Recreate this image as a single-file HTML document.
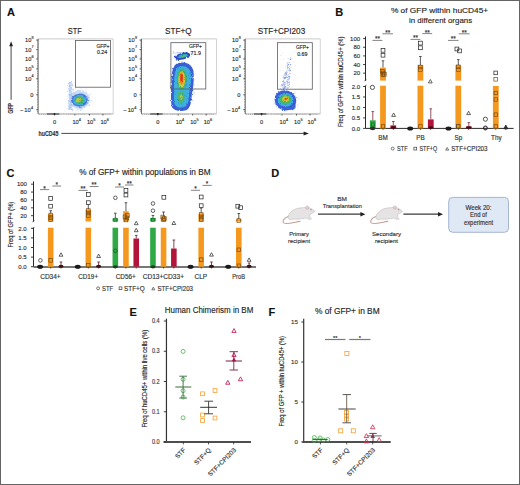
<!DOCTYPE html>
<html><head><meta charset="utf-8"><style>
html,body{margin:0;padding:0;background:#fff;}
svg{display:block;}
text{font-family:"Liberation Sans", sans-serif;stroke:#2a2a2a;stroke-width:0.14px;}
</style></head><body>
<svg width="520" height="485" viewBox="0 0 520 485">
<rect width="520" height="485" fill="#fff"/>
<text x="7.0" y="16.1" font-size="11" text-anchor="start" font-weight="bold" fill="#111" >A</text>
<text x="335.2" y="15.8" font-size="11" text-anchor="start" font-weight="bold" fill="#111" >B</text>
<text x="6.6" y="176.8" font-size="11" text-anchor="start" font-weight="bold" fill="#111" >C</text>
<text x="271.2" y="177.4" font-size="11" text-anchor="start" font-weight="bold" fill="#111" >D</text>
<text x="129.4" y="315.6" font-size="11" text-anchor="start" font-weight="bold" fill="#111" >E</text>
<text x="268.4" y="316.2" font-size="11" text-anchor="start" font-weight="bold" fill="#111" >F</text>
<defs><filter id="bl" x="-30%" y="-30%" width="160%" height="160%"><feGaussianBlur stdDeviation="0.5"/></filter><filter id="bl2" x="-30%" y="-30%" width="160%" height="160%"><feGaussianBlur stdDeviation="1.0"/></filter></defs>
<text x="74.85" y="34.1" font-size="8.5" text-anchor="middle" font-weight="normal" fill="#222" textLength="14.0" lengthAdjust="spacingAndGlyphs" >STF</text>
<line x1="37.9" y1="38.9" x2="113.19999999999999" y2="38.9" stroke="#c4c4c4" stroke-width="0.9" />
<line x1="113.19999999999999" y1="38.9" x2="113.19999999999999" y2="113.9" stroke="#cfcfcf" stroke-width="0.9" />
<line x1="37.9" y1="113.9" x2="113.19999999999999" y2="113.9" stroke="#9a9a9a" stroke-width="0.8" />
<line x1="38.1" y1="38.9" x2="38.1" y2="113.9" stroke="#4a4a4a" stroke-width="0.9" />
<line x1="36.3" y1="40.1" x2="37.9" y2="40.1" stroke="#333" stroke-width="0.9" />
<line x1="36.3" y1="49.7" x2="37.9" y2="49.7" stroke="#333" stroke-width="0.9" />
<line x1="36.3" y1="59.0" x2="37.9" y2="59.0" stroke="#333" stroke-width="0.9" />
<line x1="36.3" y1="68.9" x2="37.9" y2="68.9" stroke="#333" stroke-width="0.9" />
<line x1="36.3" y1="78.8" x2="37.9" y2="78.8" stroke="#333" stroke-width="0.9" />
<line x1="36.3" y1="94.8" x2="37.9" y2="94.8" stroke="#333" stroke-width="0.9" />
<line x1="36.3" y1="109.7" x2="37.9" y2="109.7" stroke="#333" stroke-width="0.9" />
<line x1="37.0" y1="42" x2="37.9" y2="42" stroke="#555" stroke-width="0.5" />
<line x1="37.0" y1="44" x2="37.9" y2="44" stroke="#555" stroke-width="0.5" />
<line x1="37.0" y1="46" x2="37.9" y2="46" stroke="#555" stroke-width="0.5" />
<line x1="37.0" y1="47.5" x2="37.9" y2="47.5" stroke="#555" stroke-width="0.5" />
<line x1="37.0" y1="52" x2="37.9" y2="52" stroke="#555" stroke-width="0.5" />
<line x1="37.0" y1="54" x2="37.9" y2="54" stroke="#555" stroke-width="0.5" />
<line x1="37.0" y1="56" x2="37.9" y2="56" stroke="#555" stroke-width="0.5" />
<line x1="37.0" y1="57.5" x2="37.9" y2="57.5" stroke="#555" stroke-width="0.5" />
<line x1="37.0" y1="61.5" x2="37.9" y2="61.5" stroke="#555" stroke-width="0.5" />
<line x1="37.0" y1="63.5" x2="37.9" y2="63.5" stroke="#555" stroke-width="0.5" />
<line x1="37.0" y1="65.5" x2="37.9" y2="65.5" stroke="#555" stroke-width="0.5" />
<line x1="37.0" y1="67" x2="37.9" y2="67" stroke="#555" stroke-width="0.5" />
<line x1="37.0" y1="71.5" x2="37.9" y2="71.5" stroke="#555" stroke-width="0.5" />
<line x1="37.0" y1="73.5" x2="37.9" y2="73.5" stroke="#555" stroke-width="0.5" />
<line x1="37.0" y1="75.5" x2="37.9" y2="75.5" stroke="#555" stroke-width="0.5" />
<line x1="37.0" y1="77" x2="37.9" y2="77" stroke="#555" stroke-width="0.5" />
<line x1="37.0" y1="81.5" x2="37.9" y2="81.5" stroke="#555" stroke-width="0.5" />
<line x1="37.0" y1="84" x2="37.9" y2="84" stroke="#555" stroke-width="0.5" />
<line x1="37.0" y1="87" x2="37.9" y2="87" stroke="#555" stroke-width="0.5" />
<line x1="37.0" y1="90" x2="37.9" y2="90" stroke="#555" stroke-width="0.5" />
<line x1="37.0" y1="92.5" x2="37.9" y2="92.5" stroke="#555" stroke-width="0.5" />
<line x1="37.0" y1="97" x2="37.9" y2="97" stroke="#555" stroke-width="0.5" />
<line x1="37.0" y1="99.5" x2="37.9" y2="99.5" stroke="#555" stroke-width="0.5" />
<line x1="37.0" y1="102" x2="37.9" y2="102" stroke="#555" stroke-width="0.5" />
<line x1="37.0" y1="105" x2="37.9" y2="105" stroke="#555" stroke-width="0.5" />
<line x1="37.0" y1="107.5" x2="37.9" y2="107.5" stroke="#555" stroke-width="0.5" />
<line x1="37.0" y1="111.5" x2="37.9" y2="111.5" stroke="#555" stroke-width="0.5" />
<line x1="46.9" y1="114.0" x2="59.4" y2="114.0" stroke="#333" stroke-width="1.0" />
<circle cx="54.5" cy="114.0" r="0.9" fill="#111"/>
<line x1="54.5" y1="113.9" x2="54.5" y2="115.5" stroke="#333" stroke-width="0.8" />
<line x1="74.9" y1="113.9" x2="74.9" y2="115.5" stroke="#333" stroke-width="0.8" />
<line x1="89.4" y1="113.9" x2="89.4" y2="115.5" stroke="#333" stroke-width="0.8" />
<line x1="102.9" y1="113.9" x2="102.9" y2="115.5" stroke="#333" stroke-width="0.8" />
<line x1="39.4" y1="113.9" x2="39.4" y2="114.9" stroke="#666" stroke-width="0.45" />
<line x1="41.4" y1="113.9" x2="41.4" y2="114.9" stroke="#666" stroke-width="0.45" />
<line x1="43.4" y1="113.9" x2="43.4" y2="114.9" stroke="#666" stroke-width="0.45" />
<line x1="45.4" y1="113.9" x2="45.4" y2="114.9" stroke="#666" stroke-width="0.45" />
<line x1="47.4" y1="113.9" x2="47.4" y2="114.9" stroke="#666" stroke-width="0.45" />
<line x1="49.4" y1="113.9" x2="49.4" y2="114.9" stroke="#666" stroke-width="0.45" />
<line x1="51.4" y1="113.9" x2="51.4" y2="114.9" stroke="#666" stroke-width="0.45" />
<line x1="52.9" y1="113.9" x2="52.9" y2="114.9" stroke="#666" stroke-width="0.45" />
<line x1="55.9" y1="113.9" x2="55.9" y2="114.9" stroke="#666" stroke-width="0.45" />
<line x1="57.9" y1="113.9" x2="57.9" y2="114.9" stroke="#666" stroke-width="0.45" />
<line x1="60.9" y1="113.9" x2="60.9" y2="114.9" stroke="#666" stroke-width="0.45" />
<line x1="63.9" y1="113.9" x2="63.9" y2="114.9" stroke="#666" stroke-width="0.45" />
<line x1="66.9" y1="113.9" x2="66.9" y2="114.9" stroke="#666" stroke-width="0.45" />
<line x1="68.9" y1="113.9" x2="68.9" y2="114.9" stroke="#666" stroke-width="0.45" />
<line x1="70.9" y1="113.9" x2="70.9" y2="114.9" stroke="#666" stroke-width="0.45" />
<line x1="72.9" y1="113.9" x2="72.9" y2="114.9" stroke="#666" stroke-width="0.45" />
<line x1="76.9" y1="113.9" x2="76.9" y2="114.9" stroke="#666" stroke-width="0.45" />
<line x1="78.9" y1="113.9" x2="78.9" y2="114.9" stroke="#666" stroke-width="0.45" />
<line x1="80.9" y1="113.9" x2="80.9" y2="114.9" stroke="#666" stroke-width="0.45" />
<line x1="82.9" y1="113.9" x2="82.9" y2="114.9" stroke="#666" stroke-width="0.45" />
<line x1="84.9" y1="113.9" x2="84.9" y2="114.9" stroke="#666" stroke-width="0.45" />
<line x1="88.9" y1="113.9" x2="88.9" y2="114.9" stroke="#666" stroke-width="0.45" />
<line x1="90.9" y1="113.9" x2="90.9" y2="114.9" stroke="#666" stroke-width="0.45" />
<line x1="92.9" y1="113.9" x2="92.9" y2="114.9" stroke="#666" stroke-width="0.45" />
<line x1="94.9" y1="113.9" x2="94.9" y2="114.9" stroke="#666" stroke-width="0.45" />
<line x1="96.9" y1="113.9" x2="96.9" y2="114.9" stroke="#666" stroke-width="0.45" />
<line x1="98.9" y1="113.9" x2="98.9" y2="114.9" stroke="#666" stroke-width="0.45" />
<line x1="101.9" y1="113.9" x2="101.9" y2="114.9" stroke="#666" stroke-width="0.45" />
<line x1="103.9" y1="113.9" x2="103.9" y2="114.9" stroke="#666" stroke-width="0.45" />
<line x1="105.9" y1="113.9" x2="105.9" y2="114.9" stroke="#666" stroke-width="0.45" />
<line x1="107.9" y1="113.9" x2="107.9" y2="114.9" stroke="#666" stroke-width="0.45" />
<line x1="109.9" y1="113.9" x2="109.9" y2="114.9" stroke="#666" stroke-width="0.45" />
<text x="31.299999999999997" y="42.1" font-size="5.7" text-anchor="end" fill="#333">10</text>
<text x="31.599999999999998" y="38.7" font-size="3.8" text-anchor="start" fill="#333">8</text>
<text x="31.299999999999997" y="51.7" font-size="5.7" text-anchor="end" fill="#333">10</text>
<text x="31.599999999999998" y="48.300000000000004" font-size="3.8" text-anchor="start" fill="#333">7</text>
<text x="31.299999999999997" y="61.0" font-size="5.7" text-anchor="end" fill="#333">10</text>
<text x="31.599999999999998" y="57.6" font-size="3.8" text-anchor="start" fill="#333">6</text>
<text x="31.299999999999997" y="70.9" font-size="5.7" text-anchor="end" fill="#333">10</text>
<text x="31.599999999999998" y="67.5" font-size="3.8" text-anchor="start" fill="#333">5</text>
<text x="31.299999999999997" y="80.8" font-size="5.7" text-anchor="end" fill="#333">10</text>
<text x="31.599999999999998" y="77.39999999999999" font-size="3.8" text-anchor="start" fill="#333">4</text>
<text x="33.3" y="96.9" font-size="5.7" text-anchor="end" fill="#333">0</text>
<text x="30.7" y="111.7" font-size="5.7" text-anchor="end" fill="#333">10</text>
<text x="23.4" y="111.7" font-size="5.7" text-anchor="end" fill="#333">−</text>
<text x="30.9" y="108.6" font-size="3.8" text-anchor="start" fill="#333">4</text>
<text x="54.5" y="124.1" font-size="5.7" text-anchor="middle" fill="#333">0</text>
<text x="72.4" y="124.1" font-size="5.7" text-anchor="start" fill="#333">10</text>
<text x="78.80000000000001" y="121.3" font-size="3.8" text-anchor="start" fill="#333">4</text>
<text x="86.9" y="124.1" font-size="5.7" text-anchor="start" fill="#333">10</text>
<text x="93.30000000000001" y="121.3" font-size="3.8" text-anchor="start" fill="#333">5</text>
<text x="100.4" y="124.1" font-size="5.7" text-anchor="start" fill="#333">10</text>
<text x="106.80000000000001" y="121.3" font-size="3.8" text-anchor="start" fill="#333">6</text>
<text x="178.25" y="34.1" font-size="8.5" text-anchor="middle" font-weight="normal" fill="#222" textLength="26.5" lengthAdjust="spacingAndGlyphs" >STF+Q</text>
<line x1="141.2" y1="38.9" x2="216.5" y2="38.9" stroke="#c4c4c4" stroke-width="0.9" />
<line x1="216.5" y1="38.9" x2="216.5" y2="113.9" stroke="#cfcfcf" stroke-width="0.9" />
<line x1="141.2" y1="113.9" x2="216.5" y2="113.9" stroke="#9a9a9a" stroke-width="0.8" />
<line x1="141.39999999999998" y1="38.9" x2="141.39999999999998" y2="113.9" stroke="#4a4a4a" stroke-width="0.9" />
<line x1="139.6" y1="40.1" x2="141.2" y2="40.1" stroke="#333" stroke-width="0.9" />
<line x1="139.6" y1="49.7" x2="141.2" y2="49.7" stroke="#333" stroke-width="0.9" />
<line x1="139.6" y1="59.0" x2="141.2" y2="59.0" stroke="#333" stroke-width="0.9" />
<line x1="139.6" y1="68.9" x2="141.2" y2="68.9" stroke="#333" stroke-width="0.9" />
<line x1="139.6" y1="78.8" x2="141.2" y2="78.8" stroke="#333" stroke-width="0.9" />
<line x1="139.6" y1="94.8" x2="141.2" y2="94.8" stroke="#333" stroke-width="0.9" />
<line x1="139.6" y1="109.7" x2="141.2" y2="109.7" stroke="#333" stroke-width="0.9" />
<line x1="140.29999999999998" y1="42" x2="141.2" y2="42" stroke="#555" stroke-width="0.5" />
<line x1="140.29999999999998" y1="44" x2="141.2" y2="44" stroke="#555" stroke-width="0.5" />
<line x1="140.29999999999998" y1="46" x2="141.2" y2="46" stroke="#555" stroke-width="0.5" />
<line x1="140.29999999999998" y1="47.5" x2="141.2" y2="47.5" stroke="#555" stroke-width="0.5" />
<line x1="140.29999999999998" y1="52" x2="141.2" y2="52" stroke="#555" stroke-width="0.5" />
<line x1="140.29999999999998" y1="54" x2="141.2" y2="54" stroke="#555" stroke-width="0.5" />
<line x1="140.29999999999998" y1="56" x2="141.2" y2="56" stroke="#555" stroke-width="0.5" />
<line x1="140.29999999999998" y1="57.5" x2="141.2" y2="57.5" stroke="#555" stroke-width="0.5" />
<line x1="140.29999999999998" y1="61.5" x2="141.2" y2="61.5" stroke="#555" stroke-width="0.5" />
<line x1="140.29999999999998" y1="63.5" x2="141.2" y2="63.5" stroke="#555" stroke-width="0.5" />
<line x1="140.29999999999998" y1="65.5" x2="141.2" y2="65.5" stroke="#555" stroke-width="0.5" />
<line x1="140.29999999999998" y1="67" x2="141.2" y2="67" stroke="#555" stroke-width="0.5" />
<line x1="140.29999999999998" y1="71.5" x2="141.2" y2="71.5" stroke="#555" stroke-width="0.5" />
<line x1="140.29999999999998" y1="73.5" x2="141.2" y2="73.5" stroke="#555" stroke-width="0.5" />
<line x1="140.29999999999998" y1="75.5" x2="141.2" y2="75.5" stroke="#555" stroke-width="0.5" />
<line x1="140.29999999999998" y1="77" x2="141.2" y2="77" stroke="#555" stroke-width="0.5" />
<line x1="140.29999999999998" y1="81.5" x2="141.2" y2="81.5" stroke="#555" stroke-width="0.5" />
<line x1="140.29999999999998" y1="84" x2="141.2" y2="84" stroke="#555" stroke-width="0.5" />
<line x1="140.29999999999998" y1="87" x2="141.2" y2="87" stroke="#555" stroke-width="0.5" />
<line x1="140.29999999999998" y1="90" x2="141.2" y2="90" stroke="#555" stroke-width="0.5" />
<line x1="140.29999999999998" y1="92.5" x2="141.2" y2="92.5" stroke="#555" stroke-width="0.5" />
<line x1="140.29999999999998" y1="97" x2="141.2" y2="97" stroke="#555" stroke-width="0.5" />
<line x1="140.29999999999998" y1="99.5" x2="141.2" y2="99.5" stroke="#555" stroke-width="0.5" />
<line x1="140.29999999999998" y1="102" x2="141.2" y2="102" stroke="#555" stroke-width="0.5" />
<line x1="140.29999999999998" y1="105" x2="141.2" y2="105" stroke="#555" stroke-width="0.5" />
<line x1="140.29999999999998" y1="107.5" x2="141.2" y2="107.5" stroke="#555" stroke-width="0.5" />
<line x1="140.29999999999998" y1="111.5" x2="141.2" y2="111.5" stroke="#555" stroke-width="0.5" />
<line x1="150.2" y1="114.0" x2="162.7" y2="114.0" stroke="#333" stroke-width="1.0" />
<circle cx="157.79999999999998" cy="114.0" r="0.9" fill="#111"/>
<line x1="157.79999999999998" y1="113.9" x2="157.79999999999998" y2="115.5" stroke="#333" stroke-width="0.8" />
<line x1="178.2" y1="113.9" x2="178.2" y2="115.5" stroke="#333" stroke-width="0.8" />
<line x1="192.7" y1="113.9" x2="192.7" y2="115.5" stroke="#333" stroke-width="0.8" />
<line x1="206.2" y1="113.9" x2="206.2" y2="115.5" stroke="#333" stroke-width="0.8" />
<line x1="142.7" y1="113.9" x2="142.7" y2="114.9" stroke="#666" stroke-width="0.45" />
<line x1="144.7" y1="113.9" x2="144.7" y2="114.9" stroke="#666" stroke-width="0.45" />
<line x1="146.7" y1="113.9" x2="146.7" y2="114.9" stroke="#666" stroke-width="0.45" />
<line x1="148.7" y1="113.9" x2="148.7" y2="114.9" stroke="#666" stroke-width="0.45" />
<line x1="150.7" y1="113.9" x2="150.7" y2="114.9" stroke="#666" stroke-width="0.45" />
<line x1="152.7" y1="113.9" x2="152.7" y2="114.9" stroke="#666" stroke-width="0.45" />
<line x1="154.7" y1="113.9" x2="154.7" y2="114.9" stroke="#666" stroke-width="0.45" />
<line x1="156.2" y1="113.9" x2="156.2" y2="114.9" stroke="#666" stroke-width="0.45" />
<line x1="159.2" y1="113.9" x2="159.2" y2="114.9" stroke="#666" stroke-width="0.45" />
<line x1="161.2" y1="113.9" x2="161.2" y2="114.9" stroke="#666" stroke-width="0.45" />
<line x1="164.2" y1="113.9" x2="164.2" y2="114.9" stroke="#666" stroke-width="0.45" />
<line x1="167.2" y1="113.9" x2="167.2" y2="114.9" stroke="#666" stroke-width="0.45" />
<line x1="170.2" y1="113.9" x2="170.2" y2="114.9" stroke="#666" stroke-width="0.45" />
<line x1="172.2" y1="113.9" x2="172.2" y2="114.9" stroke="#666" stroke-width="0.45" />
<line x1="174.2" y1="113.9" x2="174.2" y2="114.9" stroke="#666" stroke-width="0.45" />
<line x1="176.2" y1="113.9" x2="176.2" y2="114.9" stroke="#666" stroke-width="0.45" />
<line x1="180.2" y1="113.9" x2="180.2" y2="114.9" stroke="#666" stroke-width="0.45" />
<line x1="182.2" y1="113.9" x2="182.2" y2="114.9" stroke="#666" stroke-width="0.45" />
<line x1="184.2" y1="113.9" x2="184.2" y2="114.9" stroke="#666" stroke-width="0.45" />
<line x1="186.2" y1="113.9" x2="186.2" y2="114.9" stroke="#666" stroke-width="0.45" />
<line x1="188.2" y1="113.9" x2="188.2" y2="114.9" stroke="#666" stroke-width="0.45" />
<line x1="192.2" y1="113.9" x2="192.2" y2="114.9" stroke="#666" stroke-width="0.45" />
<line x1="194.2" y1="113.9" x2="194.2" y2="114.9" stroke="#666" stroke-width="0.45" />
<line x1="196.2" y1="113.9" x2="196.2" y2="114.9" stroke="#666" stroke-width="0.45" />
<line x1="198.2" y1="113.9" x2="198.2" y2="114.9" stroke="#666" stroke-width="0.45" />
<line x1="200.2" y1="113.9" x2="200.2" y2="114.9" stroke="#666" stroke-width="0.45" />
<line x1="202.2" y1="113.9" x2="202.2" y2="114.9" stroke="#666" stroke-width="0.45" />
<line x1="205.2" y1="113.9" x2="205.2" y2="114.9" stroke="#666" stroke-width="0.45" />
<line x1="207.2" y1="113.9" x2="207.2" y2="114.9" stroke="#666" stroke-width="0.45" />
<line x1="209.2" y1="113.9" x2="209.2" y2="114.9" stroke="#666" stroke-width="0.45" />
<line x1="211.2" y1="113.9" x2="211.2" y2="114.9" stroke="#666" stroke-width="0.45" />
<line x1="213.2" y1="113.9" x2="213.2" y2="114.9" stroke="#666" stroke-width="0.45" />
<text x="134.6" y="42.1" font-size="5.7" text-anchor="end" fill="#333">10</text>
<text x="134.89999999999998" y="38.7" font-size="3.8" text-anchor="start" fill="#333">8</text>
<text x="134.6" y="51.7" font-size="5.7" text-anchor="end" fill="#333">10</text>
<text x="134.89999999999998" y="48.300000000000004" font-size="3.8" text-anchor="start" fill="#333">7</text>
<text x="134.6" y="61.0" font-size="5.7" text-anchor="end" fill="#333">10</text>
<text x="134.89999999999998" y="57.6" font-size="3.8" text-anchor="start" fill="#333">6</text>
<text x="134.6" y="70.9" font-size="5.7" text-anchor="end" fill="#333">10</text>
<text x="134.89999999999998" y="67.5" font-size="3.8" text-anchor="start" fill="#333">5</text>
<text x="134.6" y="80.8" font-size="5.7" text-anchor="end" fill="#333">10</text>
<text x="134.89999999999998" y="77.39999999999999" font-size="3.8" text-anchor="start" fill="#333">4</text>
<text x="136.6" y="96.9" font-size="5.7" text-anchor="end" fill="#333">0</text>
<text x="134.0" y="111.7" font-size="5.7" text-anchor="end" fill="#333">10</text>
<text x="126.69999999999999" y="111.7" font-size="5.7" text-anchor="end" fill="#333">−</text>
<text x="134.2" y="108.6" font-size="3.8" text-anchor="start" fill="#333">4</text>
<text x="157.79999999999998" y="124.1" font-size="5.7" text-anchor="middle" fill="#333">0</text>
<text x="175.7" y="124.1" font-size="5.7" text-anchor="start" fill="#333">10</text>
<text x="182.1" y="121.3" font-size="3.8" text-anchor="start" fill="#333">4</text>
<text x="190.2" y="124.1" font-size="5.7" text-anchor="start" fill="#333">10</text>
<text x="196.6" y="121.3" font-size="3.8" text-anchor="start" fill="#333">5</text>
<text x="203.7" y="124.1" font-size="5.7" text-anchor="start" fill="#333">10</text>
<text x="210.1" y="121.3" font-size="3.8" text-anchor="start" fill="#333">6</text>
<text x="281.5" y="34.1" font-size="8.5" text-anchor="middle" font-weight="normal" fill="#222" textLength="47.4" lengthAdjust="spacingAndGlyphs" >STF+CPI203</text>
<line x1="245.0" y1="38.9" x2="320.3" y2="38.9" stroke="#c4c4c4" stroke-width="0.9" />
<line x1="320.3" y1="38.9" x2="320.3" y2="113.9" stroke="#cfcfcf" stroke-width="0.9" />
<line x1="245.0" y1="113.9" x2="320.3" y2="113.9" stroke="#9a9a9a" stroke-width="0.8" />
<line x1="245.2" y1="38.9" x2="245.2" y2="113.9" stroke="#4a4a4a" stroke-width="0.9" />
<line x1="243.4" y1="40.1" x2="245.0" y2="40.1" stroke="#333" stroke-width="0.9" />
<line x1="243.4" y1="49.7" x2="245.0" y2="49.7" stroke="#333" stroke-width="0.9" />
<line x1="243.4" y1="59.0" x2="245.0" y2="59.0" stroke="#333" stroke-width="0.9" />
<line x1="243.4" y1="68.9" x2="245.0" y2="68.9" stroke="#333" stroke-width="0.9" />
<line x1="243.4" y1="78.8" x2="245.0" y2="78.8" stroke="#333" stroke-width="0.9" />
<line x1="243.4" y1="94.8" x2="245.0" y2="94.8" stroke="#333" stroke-width="0.9" />
<line x1="243.4" y1="109.7" x2="245.0" y2="109.7" stroke="#333" stroke-width="0.9" />
<line x1="244.1" y1="42" x2="245.0" y2="42" stroke="#555" stroke-width="0.5" />
<line x1="244.1" y1="44" x2="245.0" y2="44" stroke="#555" stroke-width="0.5" />
<line x1="244.1" y1="46" x2="245.0" y2="46" stroke="#555" stroke-width="0.5" />
<line x1="244.1" y1="47.5" x2="245.0" y2="47.5" stroke="#555" stroke-width="0.5" />
<line x1="244.1" y1="52" x2="245.0" y2="52" stroke="#555" stroke-width="0.5" />
<line x1="244.1" y1="54" x2="245.0" y2="54" stroke="#555" stroke-width="0.5" />
<line x1="244.1" y1="56" x2="245.0" y2="56" stroke="#555" stroke-width="0.5" />
<line x1="244.1" y1="57.5" x2="245.0" y2="57.5" stroke="#555" stroke-width="0.5" />
<line x1="244.1" y1="61.5" x2="245.0" y2="61.5" stroke="#555" stroke-width="0.5" />
<line x1="244.1" y1="63.5" x2="245.0" y2="63.5" stroke="#555" stroke-width="0.5" />
<line x1="244.1" y1="65.5" x2="245.0" y2="65.5" stroke="#555" stroke-width="0.5" />
<line x1="244.1" y1="67" x2="245.0" y2="67" stroke="#555" stroke-width="0.5" />
<line x1="244.1" y1="71.5" x2="245.0" y2="71.5" stroke="#555" stroke-width="0.5" />
<line x1="244.1" y1="73.5" x2="245.0" y2="73.5" stroke="#555" stroke-width="0.5" />
<line x1="244.1" y1="75.5" x2="245.0" y2="75.5" stroke="#555" stroke-width="0.5" />
<line x1="244.1" y1="77" x2="245.0" y2="77" stroke="#555" stroke-width="0.5" />
<line x1="244.1" y1="81.5" x2="245.0" y2="81.5" stroke="#555" stroke-width="0.5" />
<line x1="244.1" y1="84" x2="245.0" y2="84" stroke="#555" stroke-width="0.5" />
<line x1="244.1" y1="87" x2="245.0" y2="87" stroke="#555" stroke-width="0.5" />
<line x1="244.1" y1="90" x2="245.0" y2="90" stroke="#555" stroke-width="0.5" />
<line x1="244.1" y1="92.5" x2="245.0" y2="92.5" stroke="#555" stroke-width="0.5" />
<line x1="244.1" y1="97" x2="245.0" y2="97" stroke="#555" stroke-width="0.5" />
<line x1="244.1" y1="99.5" x2="245.0" y2="99.5" stroke="#555" stroke-width="0.5" />
<line x1="244.1" y1="102" x2="245.0" y2="102" stroke="#555" stroke-width="0.5" />
<line x1="244.1" y1="105" x2="245.0" y2="105" stroke="#555" stroke-width="0.5" />
<line x1="244.1" y1="107.5" x2="245.0" y2="107.5" stroke="#555" stroke-width="0.5" />
<line x1="244.1" y1="111.5" x2="245.0" y2="111.5" stroke="#555" stroke-width="0.5" />
<line x1="254.0" y1="114.0" x2="266.5" y2="114.0" stroke="#333" stroke-width="1.0" />
<circle cx="261.6" cy="114.0" r="0.9" fill="#111"/>
<line x1="261.6" y1="113.9" x2="261.6" y2="115.5" stroke="#333" stroke-width="0.8" />
<line x1="282.0" y1="113.9" x2="282.0" y2="115.5" stroke="#333" stroke-width="0.8" />
<line x1="296.5" y1="113.9" x2="296.5" y2="115.5" stroke="#333" stroke-width="0.8" />
<line x1="310.0" y1="113.9" x2="310.0" y2="115.5" stroke="#333" stroke-width="0.8" />
<line x1="246.5" y1="113.9" x2="246.5" y2="114.9" stroke="#666" stroke-width="0.45" />
<line x1="248.5" y1="113.9" x2="248.5" y2="114.9" stroke="#666" stroke-width="0.45" />
<line x1="250.5" y1="113.9" x2="250.5" y2="114.9" stroke="#666" stroke-width="0.45" />
<line x1="252.5" y1="113.9" x2="252.5" y2="114.9" stroke="#666" stroke-width="0.45" />
<line x1="254.5" y1="113.9" x2="254.5" y2="114.9" stroke="#666" stroke-width="0.45" />
<line x1="256.5" y1="113.9" x2="256.5" y2="114.9" stroke="#666" stroke-width="0.45" />
<line x1="258.5" y1="113.9" x2="258.5" y2="114.9" stroke="#666" stroke-width="0.45" />
<line x1="260.0" y1="113.9" x2="260.0" y2="114.9" stroke="#666" stroke-width="0.45" />
<line x1="263.0" y1="113.9" x2="263.0" y2="114.9" stroke="#666" stroke-width="0.45" />
<line x1="265.0" y1="113.9" x2="265.0" y2="114.9" stroke="#666" stroke-width="0.45" />
<line x1="268.0" y1="113.9" x2="268.0" y2="114.9" stroke="#666" stroke-width="0.45" />
<line x1="271.0" y1="113.9" x2="271.0" y2="114.9" stroke="#666" stroke-width="0.45" />
<line x1="274.0" y1="113.9" x2="274.0" y2="114.9" stroke="#666" stroke-width="0.45" />
<line x1="276.0" y1="113.9" x2="276.0" y2="114.9" stroke="#666" stroke-width="0.45" />
<line x1="278.0" y1="113.9" x2="278.0" y2="114.9" stroke="#666" stroke-width="0.45" />
<line x1="280.0" y1="113.9" x2="280.0" y2="114.9" stroke="#666" stroke-width="0.45" />
<line x1="284.0" y1="113.9" x2="284.0" y2="114.9" stroke="#666" stroke-width="0.45" />
<line x1="286.0" y1="113.9" x2="286.0" y2="114.9" stroke="#666" stroke-width="0.45" />
<line x1="288.0" y1="113.9" x2="288.0" y2="114.9" stroke="#666" stroke-width="0.45" />
<line x1="290.0" y1="113.9" x2="290.0" y2="114.9" stroke="#666" stroke-width="0.45" />
<line x1="292.0" y1="113.9" x2="292.0" y2="114.9" stroke="#666" stroke-width="0.45" />
<line x1="296.0" y1="113.9" x2="296.0" y2="114.9" stroke="#666" stroke-width="0.45" />
<line x1="298.0" y1="113.9" x2="298.0" y2="114.9" stroke="#666" stroke-width="0.45" />
<line x1="300.0" y1="113.9" x2="300.0" y2="114.9" stroke="#666" stroke-width="0.45" />
<line x1="302.0" y1="113.9" x2="302.0" y2="114.9" stroke="#666" stroke-width="0.45" />
<line x1="304.0" y1="113.9" x2="304.0" y2="114.9" stroke="#666" stroke-width="0.45" />
<line x1="306.0" y1="113.9" x2="306.0" y2="114.9" stroke="#666" stroke-width="0.45" />
<line x1="309.0" y1="113.9" x2="309.0" y2="114.9" stroke="#666" stroke-width="0.45" />
<line x1="311.0" y1="113.9" x2="311.0" y2="114.9" stroke="#666" stroke-width="0.45" />
<line x1="313.0" y1="113.9" x2="313.0" y2="114.9" stroke="#666" stroke-width="0.45" />
<line x1="315.0" y1="113.9" x2="315.0" y2="114.9" stroke="#666" stroke-width="0.45" />
<line x1="317.0" y1="113.9" x2="317.0" y2="114.9" stroke="#666" stroke-width="0.45" />
<text x="238.4" y="42.1" font-size="5.7" text-anchor="end" fill="#333">10</text>
<text x="238.7" y="38.7" font-size="3.8" text-anchor="start" fill="#333">8</text>
<text x="238.4" y="51.7" font-size="5.7" text-anchor="end" fill="#333">10</text>
<text x="238.7" y="48.300000000000004" font-size="3.8" text-anchor="start" fill="#333">7</text>
<text x="238.4" y="61.0" font-size="5.7" text-anchor="end" fill="#333">10</text>
<text x="238.7" y="57.6" font-size="3.8" text-anchor="start" fill="#333">6</text>
<text x="238.4" y="70.9" font-size="5.7" text-anchor="end" fill="#333">10</text>
<text x="238.7" y="67.5" font-size="3.8" text-anchor="start" fill="#333">5</text>
<text x="238.4" y="80.8" font-size="5.7" text-anchor="end" fill="#333">10</text>
<text x="238.7" y="77.39999999999999" font-size="3.8" text-anchor="start" fill="#333">4</text>
<text x="240.4" y="96.9" font-size="5.7" text-anchor="end" fill="#333">0</text>
<text x="237.8" y="111.7" font-size="5.7" text-anchor="end" fill="#333">10</text>
<text x="230.5" y="111.7" font-size="5.7" text-anchor="end" fill="#333">−</text>
<text x="238.0" y="108.6" font-size="3.8" text-anchor="start" fill="#333">4</text>
<text x="261.6" y="124.1" font-size="5.7" text-anchor="middle" fill="#333">0</text>
<text x="279.5" y="124.1" font-size="5.7" text-anchor="start" fill="#333">10</text>
<text x="285.9" y="121.3" font-size="3.8" text-anchor="start" fill="#333">4</text>
<text x="294.0" y="124.1" font-size="5.7" text-anchor="start" fill="#333">10</text>
<text x="300.4" y="121.3" font-size="3.8" text-anchor="start" fill="#333">5</text>
<text x="307.5" y="124.1" font-size="5.7" text-anchor="start" fill="#333">10</text>
<text x="313.9" y="121.3" font-size="3.8" text-anchor="start" fill="#333">6</text>
<defs><filter id="rag" x="-30%" y="-30%" width="160%" height="160%"><feTurbulence type="fractalNoise" baseFrequency="0.8" numOctaves="2" seed="5" result="n"/><feDisplacementMap in="SourceGraphic" in2="n" scale="2.6" xChannelSelector="R" yChannelSelector="G" result="d"/><feGaussianBlur in="d" stdDeviation="0.35"/></filter></defs>
<g filter="url(#rag)">
<rect x="68.8" y="82.5" width="3.4" height="27.5" fill="#aac6f0" opacity="0.6"/>
<ellipse cx="79.5" cy="99.5" rx="10.5" ry="9.5" fill="#bed4f4" opacity="0.75" transform="rotate(0 79.5 99.5)"/>
<circle cx="80.63" cy="92.15" r="0.45" fill="#9dbcec" opacity="0.8"/>
<circle cx="68.92" cy="96.48" r="0.45" fill="#9dbcec" opacity="0.8"/>
<circle cx="68.42" cy="94.23" r="0.45" fill="#9dbcec" opacity="0.8"/>
<circle cx="77.90" cy="106.22" r="0.45" fill="#9dbcec" opacity="0.8"/>
<circle cx="82.87" cy="109.91" r="0.45" fill="#9dbcec" opacity="0.8"/>
<circle cx="81.64" cy="93.10" r="0.45" fill="#9dbcec" opacity="0.8"/>
<circle cx="75.06" cy="105.89" r="0.45" fill="#9dbcec" opacity="0.8"/>
<circle cx="71.93" cy="98.74" r="0.45" fill="#9dbcec" opacity="0.8"/>
<circle cx="83.15" cy="92.36" r="0.45" fill="#9dbcec" opacity="0.8"/>
<circle cx="84.17" cy="94.04" r="0.45" fill="#9dbcec" opacity="0.8"/>
<circle cx="75.20" cy="98.86" r="0.45" fill="#9dbcec" opacity="0.8"/>
<circle cx="78.60" cy="90.14" r="0.45" fill="#9dbcec" opacity="0.8"/>
<circle cx="86.96" cy="102.32" r="0.45" fill="#9dbcec" opacity="0.8"/>
<circle cx="73.48" cy="98.52" r="0.45" fill="#9dbcec" opacity="0.8"/>
<circle cx="80.37" cy="107.69" r="0.45" fill="#9dbcec" opacity="0.8"/>
<circle cx="85.37" cy="89.78" r="0.45" fill="#9dbcec" opacity="0.8"/>
<circle cx="77.74" cy="104.09" r="0.45" fill="#9dbcec" opacity="0.8"/>
<circle cx="71.22" cy="95.91" r="0.45" fill="#9dbcec" opacity="0.8"/>
<circle cx="68.46" cy="101.38" r="0.45" fill="#9dbcec" opacity="0.8"/>
<circle cx="86.23" cy="98.48" r="0.45" fill="#9dbcec" opacity="0.8"/>
<circle cx="84.53" cy="99.13" r="0.45" fill="#9dbcec" opacity="0.8"/>
<circle cx="81.71" cy="94.91" r="0.45" fill="#9dbcec" opacity="0.8"/>
<circle cx="79.12" cy="101.26" r="0.45" fill="#9dbcec" opacity="0.8"/>
<circle cx="68.99" cy="102.40" r="0.45" fill="#9dbcec" opacity="0.8"/>
<circle cx="76.95" cy="101.39" r="0.45" fill="#9dbcec" opacity="0.8"/>
<circle cx="68.05" cy="95.08" r="0.45" fill="#9dbcec" opacity="0.8"/>
<circle cx="68.94" cy="104.43" r="0.45" fill="#9dbcec" opacity="0.8"/>
<circle cx="77.08" cy="107.58" r="0.45" fill="#9dbcec" opacity="0.8"/>
<circle cx="69.47" cy="94.70" r="0.45" fill="#9dbcec" opacity="0.8"/>
<circle cx="80.96" cy="107.94" r="0.45" fill="#9dbcec" opacity="0.8"/>
<circle cx="87.57" cy="107.35" r="0.45" fill="#9dbcec" opacity="0.8"/>
<circle cx="74.32" cy="93.67" r="0.45" fill="#9dbcec" opacity="0.8"/>
<circle cx="76.29" cy="107.97" r="0.45" fill="#9dbcec" opacity="0.8"/>
<circle cx="73.22" cy="95.79" r="0.45" fill="#9dbcec" opacity="0.8"/>
<circle cx="81.93" cy="89.01" r="0.45" fill="#9dbcec" opacity="0.8"/>
<circle cx="76.55" cy="98.27" r="0.45" fill="#9dbcec" opacity="0.8"/>
<circle cx="90.85" cy="102.06" r="0.45" fill="#9dbcec" opacity="0.8"/>
<circle cx="80.13" cy="99.84" r="0.45" fill="#9dbcec" opacity="0.8"/>
<circle cx="89.54" cy="104.79" r="0.45" fill="#9dbcec" opacity="0.8"/>
<circle cx="88.93" cy="105.34" r="0.45" fill="#9dbcec" opacity="0.8"/>
<circle cx="77.11" cy="93.17" r="0.45" fill="#9dbcec" opacity="0.8"/>
<circle cx="70.04" cy="100.35" r="0.45" fill="#9dbcec" opacity="0.8"/>
<circle cx="69.99" cy="92.09" r="0.45" fill="#9dbcec" opacity="0.8"/>
<circle cx="73.68" cy="91.60" r="0.45" fill="#9dbcec" opacity="0.8"/>
<circle cx="78.92" cy="95.76" r="0.45" fill="#9dbcec" opacity="0.8"/>
<circle cx="75.89" cy="89.08" r="0.45" fill="#9dbcec" opacity="0.8"/>
<circle cx="80.44" cy="110.84" r="0.45" fill="#9dbcec" opacity="0.8"/>
<circle cx="88.65" cy="102.23" r="0.45" fill="#9dbcec" opacity="0.8"/>
<circle cx="73.90" cy="92.18" r="0.45" fill="#9dbcec" opacity="0.8"/>
<circle cx="71.59" cy="104.54" r="0.45" fill="#9dbcec" opacity="0.8"/>
<circle cx="80.55" cy="104.76" r="0.45" fill="#9dbcec" opacity="0.8"/>
<circle cx="75.58" cy="87.80" r="0.45" fill="#9dbcec" opacity="0.8"/>
<circle cx="88.39" cy="105.59" r="0.45" fill="#9dbcec" opacity="0.8"/>
<circle cx="87.55" cy="103.57" r="0.45" fill="#9dbcec" opacity="0.8"/>
<circle cx="73.06" cy="96.79" r="0.45" fill="#9dbcec" opacity="0.8"/>
<circle cx="73.85" cy="102.12" r="0.45" fill="#9dbcec" opacity="0.8"/>
<circle cx="90.93" cy="94.64" r="0.45" fill="#9dbcec" opacity="0.8"/>
<circle cx="82.79" cy="108.46" r="0.45" fill="#9dbcec" opacity="0.8"/>
<circle cx="88.09" cy="95.62" r="0.45" fill="#9dbcec" opacity="0.8"/>
<circle cx="83.50" cy="105.39" r="0.45" fill="#9dbcec" opacity="0.8"/>
<circle cx="69.58" cy="101.15" r="0.45" fill="#9dbcec" opacity="0.8"/>
<circle cx="89.79" cy="104.86" r="0.45" fill="#9dbcec" opacity="0.8"/>
<circle cx="85.88" cy="95.58" r="0.45" fill="#9dbcec" opacity="0.8"/>
<circle cx="71.87" cy="105.07" r="0.45" fill="#9dbcec" opacity="0.8"/>
<circle cx="75.65" cy="105.43" r="0.45" fill="#9dbcec" opacity="0.8"/>
<circle cx="77.33" cy="109.88" r="0.45" fill="#9dbcec" opacity="0.8"/>
<circle cx="89.67" cy="105.60" r="0.45" fill="#9dbcec" opacity="0.8"/>
<circle cx="71.08" cy="106.21" r="0.45" fill="#9dbcec" opacity="0.8"/>
<circle cx="91.52" cy="101.05" r="0.45" fill="#9dbcec" opacity="0.8"/>
<circle cx="76.08" cy="97.73" r="0.45" fill="#9dbcec" opacity="0.8"/>
<circle cx="91.29" cy="100.82" r="0.45" fill="#9dbcec" opacity="0.8"/>
<circle cx="80.40" cy="109.48" r="0.45" fill="#9dbcec" opacity="0.8"/>
<circle cx="78.13" cy="107.59" r="0.45" fill="#9dbcec" opacity="0.8"/>
<circle cx="73.67" cy="89.94" r="0.45" fill="#9dbcec" opacity="0.8"/>
<circle cx="73.39" cy="98.89" r="0.45" fill="#9dbcec" opacity="0.8"/>
<circle cx="73.85" cy="93.78" r="0.45" fill="#9dbcec" opacity="0.8"/>
<circle cx="76.17" cy="94.97" r="0.45" fill="#9dbcec" opacity="0.8"/>
<circle cx="81.79" cy="108.58" r="0.45" fill="#9dbcec" opacity="0.8"/>
<circle cx="77.81" cy="108.99" r="0.45" fill="#9dbcec" opacity="0.8"/>
<circle cx="79.79" cy="97.22" r="0.45" fill="#9dbcec" opacity="0.8"/>
<circle cx="71.72" cy="95.44" r="0.45" fill="#9dbcec" opacity="0.8"/>
<circle cx="85.27" cy="97.97" r="0.45" fill="#9dbcec" opacity="0.8"/>
<circle cx="75.49" cy="96.81" r="0.45" fill="#9dbcec" opacity="0.8"/>
<circle cx="81.11" cy="104.92" r="0.45" fill="#9dbcec" opacity="0.8"/>
<circle cx="70.10" cy="98.09" r="0.45" fill="#9dbcec" opacity="0.8"/>
<circle cx="73.59" cy="89.45" r="0.45" fill="#9dbcec" opacity="0.8"/>
<circle cx="86.42" cy="96.49" r="0.45" fill="#9dbcec" opacity="0.8"/>
<circle cx="81.26" cy="104.18" r="0.45" fill="#9dbcec" opacity="0.8"/>
<circle cx="89.86" cy="94.52" r="0.45" fill="#9dbcec" opacity="0.8"/>
<circle cx="82.51" cy="96.42" r="0.45" fill="#9dbcec" opacity="0.8"/>
<circle cx="80.05" cy="102.13" r="0.45" fill="#9dbcec" opacity="0.8"/>
<circle cx="78.58" cy="97.27" r="0.45" fill="#9dbcec" opacity="0.8"/>
<circle cx="79.21" cy="109.72" r="0.45" fill="#9dbcec" opacity="0.8"/>
<circle cx="84.63" cy="107.73" r="0.45" fill="#9dbcec" opacity="0.8"/>
<circle cx="81.21" cy="109.77" r="0.45" fill="#9dbcec" opacity="0.8"/>
<circle cx="70.48" cy="94.48" r="0.45" fill="#9dbcec" opacity="0.8"/>
<circle cx="69.29" cy="101.42" r="0.45" fill="#9dbcec" opacity="0.8"/>
<circle cx="86.71" cy="108.36" r="0.45" fill="#9dbcec" opacity="0.8"/>
<circle cx="69.28" cy="102.05" r="0.45" fill="#7f9fe6" opacity="0.85"/>
<circle cx="71.51" cy="86.00" r="0.45" fill="#7f9fe6" opacity="0.85"/>
<circle cx="72.48" cy="109.09" r="0.45" fill="#7f9fe6" opacity="0.85"/>
<circle cx="69.57" cy="108.67" r="0.45" fill="#7f9fe6" opacity="0.85"/>
<circle cx="70.35" cy="95.64" r="0.45" fill="#7f9fe6" opacity="0.85"/>
<circle cx="72.96" cy="105.31" r="0.45" fill="#7f9fe6" opacity="0.85"/>
<circle cx="69.31" cy="94.08" r="0.45" fill="#7f9fe6" opacity="0.85"/>
<circle cx="70.87" cy="91.50" r="0.45" fill="#7f9fe6" opacity="0.85"/>
<circle cx="69.46" cy="90.92" r="0.45" fill="#7f9fe6" opacity="0.85"/>
<circle cx="71.78" cy="82.55" r="0.45" fill="#7f9fe6" opacity="0.85"/>
<circle cx="71.04" cy="94.33" r="0.45" fill="#7f9fe6" opacity="0.85"/>
<circle cx="68.68" cy="91.28" r="0.45" fill="#7f9fe6" opacity="0.85"/>
<circle cx="71.35" cy="96.34" r="0.45" fill="#7f9fe6" opacity="0.85"/>
<circle cx="68.88" cy="109.58" r="0.45" fill="#7f9fe6" opacity="0.85"/>
<circle cx="72.07" cy="109.21" r="0.45" fill="#7f9fe6" opacity="0.85"/>
<circle cx="69.06" cy="89.44" r="0.45" fill="#7f9fe6" opacity="0.85"/>
<circle cx="68.77" cy="103.81" r="0.45" fill="#7f9fe6" opacity="0.85"/>
<circle cx="69.79" cy="85.63" r="0.45" fill="#7f9fe6" opacity="0.85"/>
<circle cx="70.46" cy="107.52" r="0.45" fill="#7f9fe6" opacity="0.85"/>
<circle cx="72.20" cy="89.24" r="0.45" fill="#7f9fe6" opacity="0.85"/>
<circle cx="69.26" cy="107.74" r="0.45" fill="#7f9fe6" opacity="0.85"/>
<circle cx="71.11" cy="101.61" r="0.45" fill="#7f9fe6" opacity="0.85"/>
<circle cx="68.99" cy="83.61" r="0.45" fill="#7f9fe6" opacity="0.85"/>
<circle cx="71.63" cy="93.91" r="0.45" fill="#7f9fe6" opacity="0.85"/>
<circle cx="68.92" cy="108.27" r="0.45" fill="#7f9fe6" opacity="0.85"/>
<circle cx="71.39" cy="104.45" r="0.45" fill="#7f9fe6" opacity="0.85"/>
<circle cx="68.97" cy="105.97" r="0.45" fill="#7f9fe6" opacity="0.85"/>
<circle cx="68.89" cy="106.16" r="0.45" fill="#7f9fe6" opacity="0.85"/>
<circle cx="70.60" cy="91.50" r="0.45" fill="#7f9fe6" opacity="0.85"/>
<circle cx="71.03" cy="107.95" r="0.45" fill="#7f9fe6" opacity="0.85"/>
<circle cx="69.78" cy="85.62" r="0.45" fill="#7f9fe6" opacity="0.85"/>
<circle cx="70.92" cy="88.68" r="0.45" fill="#7f9fe6" opacity="0.85"/>
<circle cx="69.08" cy="86.52" r="0.45" fill="#7f9fe6" opacity="0.85"/>
<circle cx="68.82" cy="87.65" r="0.45" fill="#7f9fe6" opacity="0.85"/>
<circle cx="69.97" cy="90.54" r="0.45" fill="#7f9fe6" opacity="0.85"/>
<circle cx="71.94" cy="90.12" r="0.45" fill="#7f9fe6" opacity="0.85"/>
<circle cx="70.80" cy="86.98" r="0.45" fill="#7f9fe6" opacity="0.85"/>
<circle cx="70.13" cy="82.51" r="0.45" fill="#7f9fe6" opacity="0.85"/>
<circle cx="69.70" cy="82.43" r="0.45" fill="#7f9fe6" opacity="0.85"/>
<circle cx="71.83" cy="97.43" r="0.45" fill="#7f9fe6" opacity="0.85"/>
<circle cx="69.43" cy="95.29" r="0.45" fill="#7f9fe6" opacity="0.85"/>
<circle cx="72.71" cy="84.98" r="0.45" fill="#7f9fe6" opacity="0.85"/>
<circle cx="72.20" cy="94.10" r="0.45" fill="#7f9fe6" opacity="0.85"/>
<circle cx="70.78" cy="105.37" r="0.45" fill="#7f9fe6" opacity="0.85"/>
<circle cx="70.33" cy="96.19" r="0.45" fill="#7f9fe6" opacity="0.85"/>
<circle cx="71.63" cy="109.51" r="0.45" fill="#7f9fe6" opacity="0.85"/>
<circle cx="70.11" cy="105.30" r="0.45" fill="#7f9fe6" opacity="0.85"/>
<circle cx="71.71" cy="99.81" r="0.45" fill="#7f9fe6" opacity="0.85"/>
<circle cx="70.38" cy="91.73" r="0.45" fill="#7f9fe6" opacity="0.85"/>
<circle cx="68.84" cy="85.63" r="0.45" fill="#7f9fe6" opacity="0.85"/>
<ellipse cx="79.6" cy="100.2" rx="8.4" ry="6.6" fill="#4f7fdc" opacity="1" transform="rotate(-5 79.6 100.2)"/>
<ellipse cx="79.5" cy="100.1" rx="6.6" ry="5.0" fill="#42b0e0" opacity="1" transform="rotate(-5 79.5 100.1)"/>
<ellipse cx="79.4" cy="100.1" rx="4.9" ry="3.8" fill="#4cb864" opacity="1" transform="rotate(-5 79.4 100.1)"/>
<ellipse cx="78.6" cy="100.0" rx="2.7" ry="2.2" fill="#b8c840" opacity="1" transform="rotate(-5 78.6 100.0)"/>
</g>
<g>
<circle cx="75.11" cy="94.78" r="0.4" fill="#2448c0" opacity="0.7"/>
<circle cx="87.41" cy="103.40" r="0.4" fill="#2448c0" opacity="0.7"/>
<circle cx="75.64" cy="96.12" r="0.4" fill="#2448c0" opacity="0.7"/>
<circle cx="75.86" cy="99.81" r="0.4" fill="#2448c0" opacity="0.7"/>
<circle cx="73.15" cy="99.58" r="0.4" fill="#2448c0" opacity="0.7"/>
<circle cx="76.19" cy="98.06" r="0.4" fill="#2448c0" opacity="0.7"/>
<circle cx="79.49" cy="100.55" r="0.4" fill="#2448c0" opacity="0.7"/>
<circle cx="74.02" cy="100.58" r="0.4" fill="#2448c0" opacity="0.7"/>
<circle cx="71.80" cy="98.79" r="0.4" fill="#2448c0" opacity="0.7"/>
<circle cx="76.08" cy="95.96" r="0.4" fill="#2448c0" opacity="0.7"/>
<circle cx="81.71" cy="101.00" r="0.4" fill="#2448c0" opacity="0.7"/>
<circle cx="85.01" cy="103.18" r="0.4" fill="#2448c0" opacity="0.7"/>
<circle cx="77.79" cy="97.54" r="0.4" fill="#2448c0" opacity="0.7"/>
<circle cx="84.48" cy="102.93" r="0.4" fill="#2448c0" opacity="0.7"/>
<circle cx="87.84" cy="102.66" r="0.4" fill="#2448c0" opacity="0.7"/>
<circle cx="84.68" cy="105.81" r="0.4" fill="#2448c0" opacity="0.7"/>
<circle cx="72.79" cy="100.90" r="0.4" fill="#2448c0" opacity="0.7"/>
<circle cx="80.09" cy="106.19" r="0.4" fill="#2448c0" opacity="0.7"/>
<circle cx="81.68" cy="107.18" r="0.4" fill="#2448c0" opacity="0.7"/>
<circle cx="83.66" cy="103.79" r="0.4" fill="#2448c0" opacity="0.7"/>
<circle cx="72.66" cy="98.13" r="0.4" fill="#2448c0" opacity="0.7"/>
<circle cx="81.17" cy="102.67" r="0.4" fill="#2448c0" opacity="0.7"/>
<circle cx="82.52" cy="103.57" r="0.4" fill="#2448c0" opacity="0.7"/>
<circle cx="85.95" cy="104.72" r="0.4" fill="#2448c0" opacity="0.7"/>
<circle cx="80.06" cy="101.10" r="0.4" fill="#2448c0" opacity="0.7"/>
<circle cx="84.74" cy="96.29" r="0.4" fill="#2448c0" opacity="0.7"/>
<circle cx="84.59" cy="95.49" r="0.4" fill="#2448c0" opacity="0.7"/>
<circle cx="79.88" cy="98.50" r="0.4" fill="#2448c0" opacity="0.7"/>
<circle cx="79.58" cy="103.62" r="0.4" fill="#2448c0" opacity="0.7"/>
<circle cx="85.34" cy="102.49" r="0.4" fill="#2448c0" opacity="0.7"/>
<circle cx="72.95" cy="96.32" r="0.4" fill="#2448c0" opacity="0.7"/>
<circle cx="84.86" cy="97.18" r="0.4" fill="#2448c0" opacity="0.7"/>
<circle cx="83.44" cy="103.77" r="0.4" fill="#2448c0" opacity="0.7"/>
<circle cx="83.51" cy="96.94" r="0.4" fill="#2448c0" opacity="0.7"/>
<circle cx="80.33" cy="99.90" r="0.4" fill="#2448c0" opacity="0.7"/>
<circle cx="79.33" cy="94.01" r="0.4" fill="#2448c0" opacity="0.7"/>
</g>
<g filter="url(#rag)">
<line x1="172.5" y1="52.8" x2="189.0" y2="52.8" stroke="#a9b8f0" stroke-width="0.9" />
<circle cx="180.48" cy="73.51" r="0.45" fill="#9dbcec" opacity="0.85"/>
<circle cx="173.32" cy="90.40" r="0.45" fill="#9dbcec" opacity="0.85"/>
<circle cx="171.25" cy="87.30" r="0.45" fill="#9dbcec" opacity="0.85"/>
<circle cx="191.61" cy="86.47" r="0.45" fill="#9dbcec" opacity="0.85"/>
<circle cx="193.61" cy="96.98" r="0.45" fill="#9dbcec" opacity="0.85"/>
<circle cx="180.52" cy="75.31" r="0.45" fill="#9dbcec" opacity="0.85"/>
<circle cx="171.22" cy="77.57" r="0.45" fill="#9dbcec" opacity="0.85"/>
<circle cx="176.48" cy="104.37" r="0.45" fill="#9dbcec" opacity="0.85"/>
<circle cx="194.05" cy="74.65" r="0.45" fill="#9dbcec" opacity="0.85"/>
<circle cx="178.17" cy="80.22" r="0.45" fill="#9dbcec" opacity="0.85"/>
<circle cx="177.82" cy="82.11" r="0.45" fill="#9dbcec" opacity="0.85"/>
<circle cx="174.48" cy="73.35" r="0.45" fill="#9dbcec" opacity="0.85"/>
<circle cx="182.33" cy="69.25" r="0.45" fill="#9dbcec" opacity="0.85"/>
<circle cx="178.20" cy="110.63" r="0.45" fill="#9dbcec" opacity="0.85"/>
<circle cx="185.93" cy="108.32" r="0.45" fill="#9dbcec" opacity="0.85"/>
<circle cx="195.22" cy="88.66" r="0.45" fill="#9dbcec" opacity="0.85"/>
<circle cx="188.97" cy="83.35" r="0.45" fill="#9dbcec" opacity="0.85"/>
<circle cx="189.58" cy="93.80" r="0.45" fill="#9dbcec" opacity="0.85"/>
<circle cx="181.17" cy="77.56" r="0.45" fill="#9dbcec" opacity="0.85"/>
<circle cx="175.93" cy="98.91" r="0.45" fill="#9dbcec" opacity="0.85"/>
<circle cx="186.68" cy="75.25" r="0.45" fill="#9dbcec" opacity="0.85"/>
<circle cx="183.72" cy="80.30" r="0.45" fill="#9dbcec" opacity="0.85"/>
<circle cx="181.91" cy="70.88" r="0.45" fill="#9dbcec" opacity="0.85"/>
<circle cx="180.50" cy="66.54" r="0.45" fill="#9dbcec" opacity="0.85"/>
<circle cx="177.26" cy="63.92" r="0.45" fill="#9dbcec" opacity="0.85"/>
<circle cx="174.17" cy="72.95" r="0.45" fill="#9dbcec" opacity="0.85"/>
<circle cx="184.09" cy="106.91" r="0.45" fill="#9dbcec" opacity="0.85"/>
<circle cx="189.49" cy="81.29" r="0.45" fill="#9dbcec" opacity="0.85"/>
<circle cx="179.42" cy="87.31" r="0.45" fill="#9dbcec" opacity="0.85"/>
<circle cx="178.31" cy="77.26" r="0.45" fill="#9dbcec" opacity="0.85"/>
<circle cx="182.10" cy="93.00" r="0.45" fill="#9dbcec" opacity="0.85"/>
<circle cx="175.13" cy="72.42" r="0.45" fill="#9dbcec" opacity="0.85"/>
<circle cx="178.99" cy="83.08" r="0.45" fill="#9dbcec" opacity="0.85"/>
<circle cx="193.87" cy="84.56" r="0.45" fill="#9dbcec" opacity="0.85"/>
<circle cx="178.75" cy="109.05" r="0.45" fill="#9dbcec" opacity="0.85"/>
<circle cx="182.67" cy="95.83" r="0.45" fill="#9dbcec" opacity="0.85"/>
<circle cx="186.42" cy="100.30" r="0.45" fill="#9dbcec" opacity="0.85"/>
<circle cx="180.72" cy="88.78" r="0.45" fill="#9dbcec" opacity="0.85"/>
<circle cx="186.37" cy="75.40" r="0.45" fill="#9dbcec" opacity="0.85"/>
<circle cx="186.09" cy="96.72" r="0.45" fill="#9dbcec" opacity="0.85"/>
<circle cx="182.73" cy="90.48" r="0.45" fill="#9dbcec" opacity="0.85"/>
<circle cx="178.64" cy="71.07" r="0.45" fill="#9dbcec" opacity="0.85"/>
<circle cx="176.05" cy="83.88" r="0.45" fill="#9dbcec" opacity="0.85"/>
<circle cx="193.51" cy="84.67" r="0.45" fill="#9dbcec" opacity="0.85"/>
<circle cx="174.04" cy="72.34" r="0.45" fill="#9dbcec" opacity="0.85"/>
<circle cx="181.95" cy="95.42" r="0.45" fill="#9dbcec" opacity="0.85"/>
<circle cx="179.60" cy="72.89" r="0.45" fill="#9dbcec" opacity="0.85"/>
<circle cx="187.02" cy="108.96" r="0.45" fill="#9dbcec" opacity="0.85"/>
<circle cx="177.14" cy="81.71" r="0.45" fill="#9dbcec" opacity="0.85"/>
<circle cx="187.48" cy="69.70" r="0.45" fill="#9dbcec" opacity="0.85"/>
<circle cx="190.91" cy="98.91" r="0.45" fill="#9dbcec" opacity="0.85"/>
<circle cx="182.15" cy="70.08" r="0.45" fill="#9dbcec" opacity="0.85"/>
<circle cx="191.60" cy="71.46" r="0.45" fill="#9dbcec" opacity="0.85"/>
<circle cx="173.64" cy="100.07" r="0.45" fill="#9dbcec" opacity="0.85"/>
<circle cx="181.87" cy="69.11" r="0.45" fill="#9dbcec" opacity="0.85"/>
<circle cx="173.70" cy="81.52" r="0.45" fill="#9dbcec" opacity="0.85"/>
<circle cx="186.96" cy="110.23" r="0.45" fill="#9dbcec" opacity="0.85"/>
<circle cx="171.39" cy="80.25" r="0.45" fill="#9dbcec" opacity="0.85"/>
<circle cx="186.93" cy="79.45" r="0.45" fill="#9dbcec" opacity="0.85"/>
<circle cx="178.22" cy="76.91" r="0.45" fill="#9dbcec" opacity="0.85"/>
<circle cx="175.39" cy="77.98" r="0.45" fill="#9dbcec" opacity="0.85"/>
<circle cx="177.70" cy="103.36" r="0.45" fill="#9dbcec" opacity="0.85"/>
<circle cx="191.66" cy="82.35" r="0.45" fill="#9dbcec" opacity="0.85"/>
<circle cx="178.18" cy="108.65" r="0.45" fill="#9dbcec" opacity="0.85"/>
<circle cx="172.79" cy="78.67" r="0.45" fill="#9dbcec" opacity="0.85"/>
<circle cx="179.32" cy="102.84" r="0.45" fill="#9dbcec" opacity="0.85"/>
<circle cx="189.42" cy="107.52" r="0.45" fill="#9dbcec" opacity="0.85"/>
<circle cx="177.17" cy="73.70" r="0.45" fill="#9dbcec" opacity="0.85"/>
<circle cx="174.87" cy="97.70" r="0.45" fill="#9dbcec" opacity="0.85"/>
<circle cx="176.49" cy="73.88" r="0.45" fill="#9dbcec" opacity="0.85"/>
<circle cx="194.49" cy="93.23" r="0.45" fill="#9dbcec" opacity="0.85"/>
<circle cx="174.02" cy="84.66" r="0.45" fill="#9dbcec" opacity="0.85"/>
<circle cx="178.60" cy="72.56" r="0.45" fill="#9dbcec" opacity="0.85"/>
<circle cx="179.90" cy="85.65" r="0.45" fill="#9dbcec" opacity="0.85"/>
<circle cx="191.08" cy="98.88" r="0.45" fill="#9dbcec" opacity="0.85"/>
<circle cx="191.68" cy="100.73" r="0.45" fill="#9dbcec" opacity="0.85"/>
<circle cx="185.22" cy="76.70" r="0.45" fill="#9dbcec" opacity="0.85"/>
<circle cx="176.59" cy="78.54" r="0.45" fill="#9dbcec" opacity="0.85"/>
<circle cx="172.92" cy="99.66" r="0.45" fill="#9dbcec" opacity="0.85"/>
<circle cx="169.89" cy="85.92" r="0.45" fill="#9dbcec" opacity="0.85"/>
<circle cx="188.29" cy="83.14" r="0.45" fill="#9dbcec" opacity="0.85"/>
<circle cx="174.03" cy="81.51" r="0.45" fill="#9dbcec" opacity="0.85"/>
<circle cx="185.61" cy="95.40" r="0.45" fill="#9dbcec" opacity="0.85"/>
<circle cx="189.44" cy="104.74" r="0.45" fill="#9dbcec" opacity="0.85"/>
<circle cx="186.93" cy="65.54" r="0.45" fill="#9dbcec" opacity="0.85"/>
<circle cx="192.23" cy="74.86" r="0.45" fill="#9dbcec" opacity="0.85"/>
<circle cx="184.01" cy="79.14" r="0.45" fill="#9dbcec" opacity="0.85"/>
<circle cx="189.14" cy="69.76" r="0.45" fill="#9dbcec" opacity="0.85"/>
<circle cx="174.42" cy="72.25" r="0.45" fill="#9dbcec" opacity="0.85"/>
<circle cx="184.35" cy="76.62" r="0.45" fill="#9dbcec" opacity="0.85"/>
<circle cx="182.22" cy="71.49" r="0.45" fill="#9dbcec" opacity="0.85"/>
<circle cx="191.25" cy="94.28" r="0.45" fill="#9dbcec" opacity="0.85"/>
<circle cx="181.24" cy="103.23" r="0.45" fill="#9dbcec" opacity="0.85"/>
<circle cx="194.91" cy="79.10" r="0.45" fill="#9dbcec" opacity="0.85"/>
<circle cx="192.98" cy="83.25" r="0.45" fill="#9dbcec" opacity="0.85"/>
<circle cx="174.80" cy="101.00" r="0.45" fill="#9dbcec" opacity="0.85"/>
<circle cx="184.88" cy="92.48" r="0.45" fill="#9dbcec" opacity="0.85"/>
<circle cx="173.53" cy="78.91" r="0.45" fill="#9dbcec" opacity="0.85"/>
<circle cx="174.65" cy="91.37" r="0.45" fill="#9dbcec" opacity="0.85"/>
<circle cx="186.55" cy="69.99" r="0.45" fill="#9dbcec" opacity="0.85"/>
<circle cx="187.35" cy="69.00" r="0.45" fill="#9dbcec" opacity="0.85"/>
<circle cx="176.37" cy="69.98" r="0.45" fill="#9dbcec" opacity="0.85"/>
<circle cx="190.86" cy="88.59" r="0.45" fill="#9dbcec" opacity="0.85"/>
<circle cx="178.86" cy="88.71" r="0.45" fill="#9dbcec" opacity="0.85"/>
<circle cx="186.18" cy="63.92" r="0.45" fill="#9dbcec" opacity="0.85"/>
<circle cx="171.91" cy="96.55" r="0.45" fill="#9dbcec" opacity="0.85"/>
<circle cx="179.29" cy="74.30" r="0.45" fill="#9dbcec" opacity="0.85"/>
<circle cx="176.37" cy="89.59" r="0.45" fill="#9dbcec" opacity="0.85"/>
<circle cx="177.72" cy="81.49" r="0.45" fill="#9dbcec" opacity="0.85"/>
<circle cx="177.91" cy="69.65" r="0.45" fill="#9dbcec" opacity="0.85"/>
<circle cx="188.84" cy="70.00" r="0.45" fill="#9dbcec" opacity="0.85"/>
<circle cx="179.71" cy="103.30" r="0.45" fill="#9dbcec" opacity="0.85"/>
<circle cx="179.19" cy="106.67" r="0.45" fill="#9dbcec" opacity="0.85"/>
<circle cx="180.83" cy="67.78" r="0.45" fill="#9dbcec" opacity="0.85"/>
<circle cx="186.22" cy="108.13" r="0.45" fill="#9dbcec" opacity="0.85"/>
<circle cx="169.67" cy="92.60" r="0.45" fill="#9dbcec" opacity="0.85"/>
<circle cx="178.13" cy="86.24" r="0.45" fill="#9dbcec" opacity="0.85"/>
<circle cx="171.38" cy="74.30" r="0.45" fill="#9dbcec" opacity="0.85"/>
<circle cx="182.63" cy="108.98" r="0.45" fill="#9dbcec" opacity="0.85"/>
<circle cx="170.26" cy="85.49" r="0.45" fill="#9dbcec" opacity="0.85"/>
<circle cx="181.48" cy="61.88" r="0.45" fill="#9dbcec" opacity="0.85"/>
<circle cx="194.79" cy="79.95" r="0.45" fill="#9dbcec" opacity="0.85"/>
<circle cx="194.13" cy="92.50" r="0.45" fill="#9dbcec" opacity="0.85"/>
<circle cx="190.57" cy="70.99" r="0.45" fill="#9dbcec" opacity="0.85"/>
<circle cx="179.13" cy="104.70" r="0.45" fill="#9dbcec" opacity="0.85"/>
<circle cx="191.88" cy="68.88" r="0.45" fill="#9dbcec" opacity="0.85"/>
<circle cx="173.54" cy="80.59" r="0.45" fill="#9dbcec" opacity="0.85"/>
<circle cx="182.54" cy="79.71" r="0.45" fill="#9dbcec" opacity="0.85"/>
<circle cx="188.75" cy="107.45" r="0.45" fill="#9dbcec" opacity="0.85"/>
<circle cx="184.99" cy="88.70" r="0.45" fill="#9dbcec" opacity="0.85"/>
<circle cx="185.81" cy="75.54" r="0.45" fill="#9dbcec" opacity="0.85"/>
<circle cx="179.60" cy="90.46" r="0.45" fill="#9dbcec" opacity="0.85"/>
<circle cx="179.77" cy="94.58" r="0.45" fill="#9dbcec" opacity="0.85"/>
<circle cx="180.40" cy="82.67" r="0.45" fill="#9dbcec" opacity="0.85"/>
<circle cx="181.69" cy="71.70" r="0.45" fill="#9dbcec" opacity="0.85"/>
<circle cx="189.91" cy="101.12" r="0.45" fill="#9dbcec" opacity="0.85"/>
<circle cx="180.75" cy="68.70" r="0.45" fill="#9dbcec" opacity="0.85"/>
<circle cx="181.20" cy="64.78" r="0.45" fill="#9dbcec" opacity="0.85"/>
<circle cx="170.85" cy="82.25" r="0.45" fill="#9dbcec" opacity="0.85"/>
<circle cx="169.75" cy="82.87" r="0.45" fill="#9dbcec" opacity="0.85"/>
<circle cx="182.30" cy="61.20" r="0.45" fill="#9dbcec" opacity="0.85"/>
<circle cx="186.09" cy="63.44" r="0.45" fill="#9dbcec" opacity="0.85"/>
<circle cx="189.00" cy="100.99" r="0.45" fill="#9dbcec" opacity="0.85"/>
<circle cx="182.34" cy="61.93" r="0.45" fill="#9dbcec" opacity="0.85"/>
<circle cx="182.12" cy="79.40" r="0.45" fill="#9dbcec" opacity="0.85"/>
<path d="M177 63.5 C 183 61, 191 62.5, 193.2 70 C 194.6 78, 193.2 88, 191.8 95 C 191.2 102, 190.8 108, 186 110.3 C 181 111.8, 174 111.3, 171.8 107 C 170.6 100, 171 90, 171.4 80 C 171.8 71, 173 66, 177 63.5 Z" fill="#3a60d4"/>
<path d="M178 67 C 183 65, 189 66.5, 190.6 72 C 191.6 79, 190.4 87, 189.2 93 C 188.8 100, 188.4 105, 185 107 C 181 108.3, 176 107.6, 174.5 104 C 173.6 98, 173.8 89, 174.2 80 C 174.6 73, 175.3 69, 178 67 Z" fill="#3cb0e0"/>
<ellipse cx="181.9" cy="79.0" rx="5.0" ry="10.5" fill="#44b860" opacity="1" transform="rotate(0 181.9 79.0)"/>
<ellipse cx="181.2" cy="97.5" rx="3.4" ry="6.2" fill="#48b868" opacity="1" transform="rotate(0 181.2 97.5)"/>
<ellipse cx="181.7" cy="79.5" rx="3.4" ry="8.2" fill="#c8cc3c" opacity="1" transform="rotate(0 181.7 79.5)"/>
<ellipse cx="181.1" cy="97.0" rx="1.5" ry="3.0" fill="#9cc84c" opacity="1" transform="rotate(0 181.1 97.0)"/>
<ellipse cx="181.6" cy="78.9" rx="2.0" ry="5.8" fill="#f08a1e" opacity="1" transform="rotate(0 181.6 78.9)"/>
<ellipse cx="181.5" cy="78.3" rx="1.2" ry="4.0" fill="#e2321e" opacity="1" transform="rotate(0 181.5 78.3)"/>
</g>
<g>
<circle cx="189.23" cy="102.75" r="0.42" fill="#2448c0" opacity="0.75"/>
<circle cx="182.26" cy="109.83" r="0.42" fill="#2448c0" opacity="0.75"/>
<circle cx="189.93" cy="69.94" r="0.42" fill="#2448c0" opacity="0.75"/>
<circle cx="182.56" cy="108.00" r="0.42" fill="#2448c0" opacity="0.75"/>
<circle cx="174.04" cy="75.14" r="0.42" fill="#2448c0" opacity="0.75"/>
<circle cx="182.67" cy="77.95" r="0.42" fill="#2448c0" opacity="0.75"/>
<circle cx="187.71" cy="106.77" r="0.42" fill="#2448c0" opacity="0.75"/>
<circle cx="171.34" cy="88.54" r="0.42" fill="#2448c0" opacity="0.75"/>
<circle cx="186.45" cy="79.99" r="0.42" fill="#2448c0" opacity="0.75"/>
<circle cx="193.32" cy="89.76" r="0.42" fill="#2448c0" opacity="0.75"/>
<circle cx="184.82" cy="106.13" r="0.42" fill="#2448c0" opacity="0.75"/>
<circle cx="186.26" cy="81.71" r="0.42" fill="#2448c0" opacity="0.75"/>
<circle cx="191.13" cy="75.24" r="0.42" fill="#2448c0" opacity="0.75"/>
<circle cx="178.45" cy="100.23" r="0.42" fill="#2448c0" opacity="0.75"/>
<circle cx="180.83" cy="70.84" r="0.42" fill="#2448c0" opacity="0.75"/>
<circle cx="191.77" cy="74.68" r="0.42" fill="#2448c0" opacity="0.75"/>
<circle cx="184.99" cy="95.18" r="0.42" fill="#2448c0" opacity="0.75"/>
<circle cx="185.87" cy="83.61" r="0.42" fill="#2448c0" opacity="0.75"/>
<circle cx="182.87" cy="106.78" r="0.42" fill="#2448c0" opacity="0.75"/>
<circle cx="171.08" cy="79.86" r="0.42" fill="#2448c0" opacity="0.75"/>
<circle cx="174.50" cy="91.18" r="0.42" fill="#2448c0" opacity="0.75"/>
<circle cx="185.08" cy="72.21" r="0.42" fill="#2448c0" opacity="0.75"/>
<circle cx="186.09" cy="85.75" r="0.42" fill="#2448c0" opacity="0.75"/>
<circle cx="175.06" cy="69.47" r="0.42" fill="#2448c0" opacity="0.75"/>
<circle cx="179.66" cy="75.21" r="0.42" fill="#2448c0" opacity="0.75"/>
<circle cx="184.31" cy="79.52" r="0.42" fill="#2448c0" opacity="0.75"/>
<circle cx="186.72" cy="84.19" r="0.42" fill="#2448c0" opacity="0.75"/>
<circle cx="179.77" cy="73.88" r="0.42" fill="#2448c0" opacity="0.75"/>
<circle cx="173.79" cy="92.40" r="0.42" fill="#2448c0" opacity="0.75"/>
<circle cx="182.70" cy="94.08" r="0.42" fill="#2448c0" opacity="0.75"/>
<circle cx="176.97" cy="77.01" r="0.42" fill="#2448c0" opacity="0.75"/>
<circle cx="190.71" cy="97.77" r="0.42" fill="#2448c0" opacity="0.75"/>
<circle cx="189.61" cy="85.26" r="0.42" fill="#2448c0" opacity="0.75"/>
<circle cx="189.51" cy="84.62" r="0.42" fill="#2448c0" opacity="0.75"/>
<circle cx="177.73" cy="99.48" r="0.42" fill="#2448c0" opacity="0.75"/>
<circle cx="188.16" cy="104.27" r="0.42" fill="#2448c0" opacity="0.75"/>
<circle cx="188.64" cy="75.30" r="0.42" fill="#2448c0" opacity="0.75"/>
<circle cx="184.06" cy="83.80" r="0.42" fill="#2448c0" opacity="0.75"/>
<circle cx="190.87" cy="88.16" r="0.42" fill="#2448c0" opacity="0.75"/>
<circle cx="175.69" cy="94.10" r="0.42" fill="#2448c0" opacity="0.75"/>
<circle cx="175.55" cy="73.81" r="0.42" fill="#2448c0" opacity="0.75"/>
<circle cx="189.64" cy="78.34" r="0.42" fill="#2448c0" opacity="0.75"/>
<circle cx="186.29" cy="96.64" r="0.42" fill="#2448c0" opacity="0.75"/>
<circle cx="181.62" cy="103.99" r="0.42" fill="#2448c0" opacity="0.75"/>
<circle cx="188.23" cy="104.88" r="0.42" fill="#2448c0" opacity="0.75"/>
<circle cx="180.68" cy="98.23" r="0.42" fill="#2448c0" opacity="0.75"/>
<circle cx="184.54" cy="77.39" r="0.42" fill="#2448c0" opacity="0.75"/>
<circle cx="174.15" cy="93.13" r="0.42" fill="#2448c0" opacity="0.75"/>
<circle cx="178.00" cy="69.09" r="0.42" fill="#2448c0" opacity="0.75"/>
<circle cx="188.09" cy="93.69" r="0.42" fill="#2448c0" opacity="0.75"/>
<circle cx="188.21" cy="98.84" r="0.42" fill="#2448c0" opacity="0.75"/>
<circle cx="178.54" cy="102.88" r="0.42" fill="#2448c0" opacity="0.75"/>
<circle cx="186.39" cy="103.25" r="0.42" fill="#2448c0" opacity="0.75"/>
<circle cx="186.31" cy="76.37" r="0.42" fill="#2448c0" opacity="0.75"/>
<circle cx="189.96" cy="72.25" r="0.42" fill="#2448c0" opacity="0.75"/>
<circle cx="177.26" cy="83.19" r="0.42" fill="#2448c0" opacity="0.75"/>
</g>
<g filter="url(#rag)">
<circle cx="177.65" cy="58.16" r="0.4" fill="#9dbcec" opacity="0.8"/>
<circle cx="179.36" cy="54.21" r="0.4" fill="#9dbcec" opacity="0.8"/>
<circle cx="191.28" cy="56.04" r="0.4" fill="#9dbcec" opacity="0.8"/>
<circle cx="189.03" cy="57.18" r="0.4" fill="#9dbcec" opacity="0.8"/>
<circle cx="180.73" cy="58.73" r="0.4" fill="#9dbcec" opacity="0.8"/>
<circle cx="178.94" cy="58.05" r="0.4" fill="#9dbcec" opacity="0.8"/>
<circle cx="182.76" cy="53.17" r="0.4" fill="#9dbcec" opacity="0.8"/>
<circle cx="181.83" cy="58.97" r="0.4" fill="#9dbcec" opacity="0.8"/>
<circle cx="175.69" cy="55.95" r="0.4" fill="#9dbcec" opacity="0.8"/>
<circle cx="178.94" cy="59.32" r="0.4" fill="#9dbcec" opacity="0.8"/>
<circle cx="177.67" cy="53.15" r="0.4" fill="#9dbcec" opacity="0.8"/>
<circle cx="185.99" cy="55.98" r="0.4" fill="#9dbcec" opacity="0.8"/>
<circle cx="174.20" cy="57.37" r="0.4" fill="#9dbcec" opacity="0.8"/>
<circle cx="185.94" cy="58.87" r="0.4" fill="#9dbcec" opacity="0.8"/>
<circle cx="184.56" cy="54.56" r="0.4" fill="#9dbcec" opacity="0.8"/>
<circle cx="180.03" cy="54.95" r="0.4" fill="#9dbcec" opacity="0.8"/>
<circle cx="176.12" cy="53.63" r="0.4" fill="#9dbcec" opacity="0.8"/>
<circle cx="190.02" cy="56.01" r="0.4" fill="#9dbcec" opacity="0.8"/>
<circle cx="179.59" cy="59.84" r="0.4" fill="#9dbcec" opacity="0.8"/>
<circle cx="176.67" cy="55.61" r="0.4" fill="#9dbcec" opacity="0.8"/>
<circle cx="182.63" cy="58.54" r="0.4" fill="#9dbcec" opacity="0.8"/>
<circle cx="187.06" cy="57.46" r="0.4" fill="#9dbcec" opacity="0.8"/>
<circle cx="178.97" cy="54.27" r="0.4" fill="#9dbcec" opacity="0.8"/>
<circle cx="185.24" cy="58.42" r="0.4" fill="#9dbcec" opacity="0.8"/>
<circle cx="175.39" cy="55.39" r="0.4" fill="#9dbcec" opacity="0.8"/>
<circle cx="187.47" cy="56.79" r="0.4" fill="#9dbcec" opacity="0.8"/>
<circle cx="174.52" cy="55.62" r="0.4" fill="#9dbcec" opacity="0.8"/>
<circle cx="175.83" cy="54.02" r="0.4" fill="#9dbcec" opacity="0.8"/>
<ellipse cx="182.4" cy="56.2" rx="8.0" ry="3.4" fill="#2a4cc4" opacity="1" transform="rotate(-13 182.4 56.2)"/>
<ellipse cx="182.8" cy="56.1" rx="5.6" ry="1.8" fill="#30aab8" opacity="1" transform="rotate(-13 182.8 56.1)"/>
<ellipse cx="183.2" cy="55.9" rx="2.6" ry="0.8" fill="#5cc060" opacity="1" transform="rotate(-13 183.2 55.9)"/>
</g>
<g filter="url(#bl)">
<circle cx="290.57" cy="59.46" r="0.42" fill="#5a7ad8" opacity="0.85"/>
<circle cx="283.98" cy="82.89" r="0.42" fill="#5a7ad8" opacity="0.85"/>
<circle cx="286.01" cy="77.50" r="0.42" fill="#5a7ad8" opacity="0.85"/>
<circle cx="287.48" cy="81.47" r="0.42" fill="#5a7ad8" opacity="0.85"/>
<circle cx="289.59" cy="77.81" r="0.42" fill="#5a7ad8" opacity="0.85"/>
<circle cx="284.39" cy="82.60" r="0.42" fill="#5a7ad8" opacity="0.85"/>
<circle cx="288.59" cy="64.50" r="0.42" fill="#5a7ad8" opacity="0.85"/>
<circle cx="285.10" cy="77.13" r="0.42" fill="#5a7ad8" opacity="0.85"/>
<circle cx="289.09" cy="82.46" r="0.42" fill="#5a7ad8" opacity="0.85"/>
<circle cx="290.35" cy="73.41" r="0.42" fill="#5a7ad8" opacity="0.85"/>
<circle cx="283.85" cy="81.93" r="0.42" fill="#5a7ad8" opacity="0.85"/>
<circle cx="287.24" cy="63.68" r="0.42" fill="#5a7ad8" opacity="0.85"/>
<circle cx="283.06" cy="77.72" r="0.42" fill="#5a7ad8" opacity="0.85"/>
<circle cx="283.09" cy="84.92" r="0.42" fill="#5a7ad8" opacity="0.85"/>
<circle cx="288.75" cy="78.41" r="0.42" fill="#5a7ad8" opacity="0.85"/>
<circle cx="289.37" cy="86.39" r="0.42" fill="#5a7ad8" opacity="0.85"/>
<circle cx="286.62" cy="81.23" r="0.42" fill="#5a7ad8" opacity="0.85"/>
<circle cx="285.83" cy="72.94" r="0.42" fill="#5a7ad8" opacity="0.85"/>
<circle cx="289.31" cy="84.58" r="0.42" fill="#5a7ad8" opacity="0.85"/>
<circle cx="284.38" cy="88.66" r="0.42" fill="#5a7ad8" opacity="0.85"/>
<circle cx="288.19" cy="79.21" r="0.42" fill="#5a7ad8" opacity="0.85"/>
<circle cx="286.21" cy="72.48" r="0.42" fill="#5a7ad8" opacity="0.85"/>
<circle cx="282.77" cy="85.30" r="0.42" fill="#5a7ad8" opacity="0.85"/>
<circle cx="285.49" cy="73.87" r="0.42" fill="#5a7ad8" opacity="0.85"/>
<circle cx="287.08" cy="84.11" r="0.42" fill="#5a7ad8" opacity="0.85"/>
<circle cx="289.09" cy="82.93" r="0.42" fill="#5a7ad8" opacity="0.85"/>
<circle cx="289.16" cy="82.83" r="0.42" fill="#5a7ad8" opacity="0.85"/>
<circle cx="288.23" cy="76.97" r="0.42" fill="#5a7ad8" opacity="0.85"/>
<circle cx="289.93" cy="76.27" r="0.42" fill="#5a7ad8" opacity="0.85"/>
<circle cx="289.11" cy="68.54" r="0.42" fill="#5a7ad8" opacity="0.85"/>
<circle cx="284.61" cy="77.82" r="0.42" fill="#5a7ad8" opacity="0.85"/>
<circle cx="283.74" cy="76.13" r="0.42" fill="#5a7ad8" opacity="0.85"/>
<circle cx="290.39" cy="64.24" r="0.42" fill="#5a7ad8" opacity="0.85"/>
<circle cx="285.21" cy="87.70" r="0.42" fill="#5a7ad8" opacity="0.85"/>
<circle cx="288.59" cy="70.21" r="0.42" fill="#5a7ad8" opacity="0.85"/>
<circle cx="284.57" cy="86.20" r="0.42" fill="#5a7ad8" opacity="0.85"/>
<circle cx="289.70" cy="76.46" r="0.42" fill="#5a7ad8" opacity="0.85"/>
<circle cx="287.44" cy="65.31" r="0.42" fill="#5a7ad8" opacity="0.85"/>
<circle cx="288.65" cy="82.77" r="0.42" fill="#5a7ad8" opacity="0.85"/>
<circle cx="287.94" cy="67.73" r="0.42" fill="#5a7ad8" opacity="0.85"/>
<circle cx="285.17" cy="88.20" r="0.42" fill="#5a7ad8" opacity="0.85"/>
<circle cx="287.29" cy="77.78" r="0.42" fill="#5a7ad8" opacity="0.85"/>
<circle cx="289.39" cy="69.37" r="0.42" fill="#5a7ad8" opacity="0.85"/>
<circle cx="283.04" cy="86.69" r="0.42" fill="#5a7ad8" opacity="0.85"/>
<circle cx="282.80" cy="83.98" r="0.42" fill="#5a7ad8" opacity="0.85"/>
<circle cx="285.82" cy="66.81" r="0.42" fill="#5a7ad8" opacity="0.85"/>
<circle cx="284.70" cy="87.01" r="0.42" fill="#5a7ad8" opacity="0.85"/>
<circle cx="288.25" cy="80.06" r="0.42" fill="#5a7ad8" opacity="0.85"/>
<circle cx="290.65" cy="69.88" r="0.42" fill="#5a7ad8" opacity="0.85"/>
<circle cx="286.40" cy="71.16" r="0.42" fill="#5a7ad8" opacity="0.85"/>
<circle cx="286.27" cy="74.04" r="0.42" fill="#5a7ad8" opacity="0.85"/>
<circle cx="287.99" cy="75.60" r="0.42" fill="#5a7ad8" opacity="0.85"/>
<circle cx="290.05" cy="59.50" r="0.42" fill="#5a7ad8" opacity="0.85"/>
<circle cx="285.87" cy="73.03" r="0.42" fill="#5a7ad8" opacity="0.85"/>
<circle cx="287.84" cy="85.28" r="0.42" fill="#5a7ad8" opacity="0.85"/>
<circle cx="287.46" cy="81.38" r="0.42" fill="#5a7ad8" opacity="0.85"/>
<circle cx="284.41" cy="84.55" r="0.42" fill="#5a7ad8" opacity="0.85"/>
<circle cx="283.91" cy="88.00" r="0.42" fill="#5a7ad8" opacity="0.85"/>
<circle cx="284.44" cy="77.51" r="0.42" fill="#5a7ad8" opacity="0.85"/>
<circle cx="288.83" cy="65.04" r="0.42" fill="#5a7ad8" opacity="0.85"/>
<circle cx="288.43" cy="64.52" r="0.42" fill="#5a7ad8" opacity="0.85"/>
<circle cx="284.67" cy="88.33" r="0.42" fill="#5a7ad8" opacity="0.85"/>
<circle cx="287.89" cy="88.51" r="0.42" fill="#5a7ad8" opacity="0.85"/>
<circle cx="289.01" cy="62.84" r="0.42" fill="#5a7ad8" opacity="0.85"/>
<circle cx="285.22" cy="74.63" r="0.42" fill="#5a7ad8" opacity="0.85"/>
<circle cx="283.05" cy="85.30" r="0.42" fill="#5a7ad8" opacity="0.85"/>
<circle cx="287.13" cy="72.71" r="0.42" fill="#5a7ad8" opacity="0.85"/>
<circle cx="280.50" cy="88.62" r="0.42" fill="#5a7ad8" opacity="0.85"/>
<circle cx="289.51" cy="76.95" r="0.42" fill="#5a7ad8" opacity="0.85"/>
<circle cx="285.95" cy="87.29" r="0.42" fill="#5a7ad8" opacity="0.85"/>
<circle cx="286.35" cy="73.59" r="0.42" fill="#5a7ad8" opacity="0.85"/>
<circle cx="283.02" cy="88.23" r="0.42" fill="#5a7ad8" opacity="0.85"/>
<circle cx="284.02" cy="75.09" r="0.42" fill="#5a7ad8" opacity="0.85"/>
<circle cx="284.80" cy="77.24" r="0.42" fill="#5a7ad8" opacity="0.85"/>
<circle cx="288.60" cy="76.51" r="0.42" fill="#5a7ad8" opacity="0.85"/>
<circle cx="284.23" cy="82.78" r="0.42" fill="#5a7ad8" opacity="0.85"/>
<circle cx="282.09" cy="84.63" r="0.42" fill="#5a7ad8" opacity="0.85"/>
<circle cx="289.36" cy="62.69" r="0.42" fill="#5a7ad8" opacity="0.85"/>
<circle cx="287.06" cy="65.04" r="0.42" fill="#5a7ad8" opacity="0.85"/>
<circle cx="285.69" cy="82.95" r="0.42" fill="#5a7ad8" opacity="0.85"/>
<circle cx="281.39" cy="84.39" r="0.42" fill="#5a7ad8" opacity="0.85"/>
<circle cx="284.87" cy="84.43" r="0.42" fill="#5a7ad8" opacity="0.85"/>
<circle cx="283.54" cy="88.59" r="0.42" fill="#5a7ad8" opacity="0.85"/>
<circle cx="281.22" cy="86.59" r="0.42" fill="#5a7ad8" opacity="0.85"/>
<circle cx="286.26" cy="74.45" r="0.42" fill="#5a7ad8" opacity="0.85"/>
<circle cx="287.35" cy="66.57" r="0.42" fill="#5a7ad8" opacity="0.85"/>
<circle cx="287.24" cy="68.29" r="0.42" fill="#5a7ad8" opacity="0.85"/>
<circle cx="289.59" cy="78.56" r="0.42" fill="#5a7ad8" opacity="0.85"/>
<circle cx="284.25" cy="78.41" r="0.42" fill="#5a7ad8" opacity="0.85"/>
<circle cx="290.33" cy="64.66" r="0.42" fill="#5a7ad8" opacity="0.85"/>
<circle cx="290.99" cy="58.93" r="0.42" fill="#5a7ad8" opacity="0.85"/>
<circle cx="283.87" cy="81.42" r="0.42" fill="#5a7ad8" opacity="0.85"/>
<circle cx="284.48" cy="87.63" r="0.42" fill="#5a7ad8" opacity="0.85"/>
<circle cx="284.57" cy="73.40" r="0.42" fill="#5a7ad8" opacity="0.85"/>
<circle cx="286.93" cy="88.96" r="0.42" fill="#5a7ad8" opacity="0.85"/>
<circle cx="286.31" cy="71.13" r="0.42" fill="#5a7ad8" opacity="0.85"/>
<circle cx="285.22" cy="82.05" r="0.42" fill="#5a7ad8" opacity="0.85"/>
<circle cx="291.01" cy="58.86" r="0.42" fill="#5a7ad8" opacity="0.85"/>
<circle cx="287.34" cy="77.36" r="0.42" fill="#5a7ad8" opacity="0.85"/>
<circle cx="289.23" cy="73.50" r="0.42" fill="#5a7ad8" opacity="0.85"/>
<circle cx="285.61" cy="78.01" r="0.42" fill="#5a7ad8" opacity="0.85"/>
<circle cx="287.62" cy="70.16" r="0.42" fill="#5a7ad8" opacity="0.85"/>
<circle cx="287.01" cy="80.30" r="0.42" fill="#5a7ad8" opacity="0.85"/>
<circle cx="290.43" cy="59.47" r="0.42" fill="#5a7ad8" opacity="0.85"/>
<circle cx="287.26" cy="82.35" r="0.42" fill="#5a7ad8" opacity="0.85"/>
<circle cx="290.15" cy="70.48" r="0.42" fill="#5a7ad8" opacity="0.85"/>
<circle cx="288.42" cy="85.65" r="0.42" fill="#5a7ad8" opacity="0.85"/>
<circle cx="290.91" cy="67.61" r="0.42" fill="#5a7ad8" opacity="0.85"/>
<circle cx="289.61" cy="84.07" r="0.42" fill="#5a7ad8" opacity="0.85"/>
<circle cx="283.46" cy="81.07" r="0.42" fill="#5a7ad8" opacity="0.85"/>
<circle cx="290.44" cy="57.48" r="0.42" fill="#5a7ad8" opacity="0.85"/>
<circle cx="285.36" cy="75.62" r="0.42" fill="#5a7ad8" opacity="0.85"/>
<circle cx="289.63" cy="66.34" r="0.42" fill="#5a7ad8" opacity="0.85"/>
<circle cx="282.81" cy="87.32" r="0.42" fill="#5a7ad8" opacity="0.85"/>
<circle cx="284.57" cy="85.52" r="0.42" fill="#5a7ad8" opacity="0.85"/>
<circle cx="285.69" cy="86.57" r="0.42" fill="#5a7ad8" opacity="0.85"/>
<circle cx="288.06" cy="85.38" r="0.42" fill="#5a7ad8" opacity="0.85"/>
<circle cx="288.02" cy="58.70" r="0.42" fill="#5a7ad8" opacity="0.85"/>
<circle cx="288.80" cy="87.38" r="0.42" fill="#5a7ad8" opacity="0.85"/>
<circle cx="282.54" cy="81.48" r="0.42" fill="#5a7ad8" opacity="0.85"/>
<circle cx="284.11" cy="79.08" r="0.42" fill="#5a7ad8" opacity="0.85"/>
<circle cx="288.53" cy="67.37" r="0.42" fill="#5a7ad8" opacity="0.85"/>
<circle cx="287.96" cy="64.74" r="0.42" fill="#5a7ad8" opacity="0.85"/>
<circle cx="286.77" cy="76.01" r="0.42" fill="#5a7ad8" opacity="0.85"/>
<circle cx="289.15" cy="76.45" r="0.42" fill="#5a7ad8" opacity="0.85"/>
<circle cx="290.82" cy="64.77" r="0.42" fill="#5a7ad8" opacity="0.85"/>
<circle cx="285.52" cy="78.28" r="0.42" fill="#5a7ad8" opacity="0.85"/>
<circle cx="285.98" cy="77.63" r="0.42" fill="#5a7ad8" opacity="0.85"/>
<circle cx="284.20" cy="87.25" r="0.42" fill="#5a7ad8" opacity="0.85"/>
<circle cx="285.06" cy="75.69" r="0.42" fill="#5a7ad8" opacity="0.85"/>
<circle cx="284.16" cy="74.93" r="0.42" fill="#5a7ad8" opacity="0.85"/>
<circle cx="286.88" cy="74.66" r="0.42" fill="#5a7ad8" opacity="0.85"/>
<circle cx="288.92" cy="74.66" r="0.42" fill="#5a7ad8" opacity="0.85"/>
<circle cx="283.58" cy="80.21" r="0.42" fill="#5a7ad8" opacity="0.85"/>
<circle cx="286.53" cy="76.84" r="0.42" fill="#5a7ad8" opacity="0.85"/>
<circle cx="286.48" cy="73.93" r="0.42" fill="#5a7ad8" opacity="0.85"/>
<circle cx="285.21" cy="77.78" r="0.42" fill="#5a7ad8" opacity="0.85"/>
<circle cx="283.63" cy="84.29" r="0.42" fill="#5a7ad8" opacity="0.85"/>
<circle cx="289.90" cy="71.28" r="0.42" fill="#5a7ad8" opacity="0.85"/>
<circle cx="289.60" cy="68.48" r="0.42" fill="#5a7ad8" opacity="0.85"/>
<circle cx="287.57" cy="87.44" r="0.42" fill="#5a7ad8" opacity="0.85"/>
<circle cx="285.93" cy="86.64" r="0.42" fill="#5a7ad8" opacity="0.85"/>
<circle cx="285.24" cy="84.55" r="0.42" fill="#5a7ad8" opacity="0.85"/>
<circle cx="285.47" cy="86.27" r="0.42" fill="#5a7ad8" opacity="0.85"/>
<circle cx="285.83" cy="73.40" r="0.42" fill="#5a7ad8" opacity="0.85"/>
<circle cx="289.41" cy="81.18" r="0.42" fill="#5a7ad8" opacity="0.85"/>
<circle cx="289.82" cy="70.21" r="0.42" fill="#5a7ad8" opacity="0.85"/>
<circle cx="281.10" cy="85.20" r="0.42" fill="#5a7ad8" opacity="0.85"/>
<circle cx="282.09" cy="85.47" r="0.42" fill="#5a7ad8" opacity="0.85"/>
<circle cx="285.28" cy="72.63" r="0.42" fill="#5a7ad8" opacity="0.85"/>
<circle cx="283.31" cy="83.25" r="0.42" fill="#5a7ad8" opacity="0.85"/>
<circle cx="287.93" cy="62.13" r="0.42" fill="#5a7ad8" opacity="0.85"/>
<circle cx="287.22" cy="83.22" r="0.42" fill="#5a7ad8" opacity="0.85"/>
<circle cx="289.48" cy="78.95" r="0.42" fill="#5a7ad8" opacity="0.85"/>
<circle cx="284.29" cy="78.40" r="0.42" fill="#5a7ad8" opacity="0.85"/>
<circle cx="287.64" cy="66.84" r="0.42" fill="#5a7ad8" opacity="0.85"/>
<circle cx="283.60" cy="77.79" r="0.42" fill="#5a7ad8" opacity="0.85"/>
<circle cx="290.56" cy="70.62" r="0.42" fill="#5a7ad8" opacity="0.85"/>
<circle cx="282.96" cy="81.51" r="0.42" fill="#5a7ad8" opacity="0.85"/>
<circle cx="287.03" cy="82.79" r="0.42" fill="#5a7ad8" opacity="0.85"/>
<circle cx="287.56" cy="68.00" r="0.42" fill="#5a7ad8" opacity="0.85"/>
<circle cx="287.41" cy="79.42" r="0.42" fill="#5a7ad8" opacity="0.85"/>
<circle cx="294.75" cy="51.61" r="0.38" fill="#a8bced" opacity="0.7"/>
<circle cx="284.55" cy="46.33" r="0.38" fill="#a8bced" opacity="0.7"/>
<circle cx="287.26" cy="67.28" r="0.38" fill="#a8bced" opacity="0.7"/>
<circle cx="285.13" cy="83.29" r="0.38" fill="#a8bced" opacity="0.7"/>
<circle cx="280.77" cy="69.88" r="0.38" fill="#a8bced" opacity="0.7"/>
<circle cx="283.91" cy="70.60" r="0.38" fill="#a8bced" opacity="0.7"/>
<circle cx="295.46" cy="75.56" r="0.38" fill="#a8bced" opacity="0.7"/>
<circle cx="280.30" cy="55.57" r="0.38" fill="#a8bced" opacity="0.7"/>
<circle cx="291.58" cy="87.27" r="0.38" fill="#a8bced" opacity="0.7"/>
<circle cx="279.87" cy="71.58" r="0.38" fill="#a8bced" opacity="0.7"/>
<circle cx="293.53" cy="80.03" r="0.38" fill="#a8bced" opacity="0.7"/>
<circle cx="286.18" cy="79.85" r="0.38" fill="#a8bced" opacity="0.7"/>
<circle cx="288.70" cy="84.60" r="0.38" fill="#a8bced" opacity="0.7"/>
<circle cx="279.23" cy="85.43" r="0.38" fill="#a8bced" opacity="0.7"/>
<circle cx="287.65" cy="62.51" r="0.38" fill="#a8bced" opacity="0.7"/>
<circle cx="280.85" cy="55.53" r="0.38" fill="#a8bced" opacity="0.7"/>
<circle cx="294.41" cy="74.19" r="0.38" fill="#a8bced" opacity="0.7"/>
<circle cx="282.18" cy="59.81" r="0.38" fill="#a8bced" opacity="0.7"/>
<circle cx="281.95" cy="53.52" r="0.38" fill="#a8bced" opacity="0.7"/>
<circle cx="283.61" cy="59.24" r="0.38" fill="#a8bced" opacity="0.7"/>
<circle cx="299.50" cy="87.88" r="0.38" fill="#a8bced" opacity="0.7"/>
<circle cx="295.62" cy="65.63" r="0.38" fill="#a8bced" opacity="0.7"/>
<circle cx="289.44" cy="78.51" r="0.38" fill="#a8bced" opacity="0.7"/>
<circle cx="298.07" cy="77.31" r="0.38" fill="#a8bced" opacity="0.7"/>
<circle cx="292.36" cy="53.56" r="0.38" fill="#a8bced" opacity="0.7"/>
</g>
<g filter="url(#rag)">
<circle cx="289.13" cy="108.99" r="0.45" fill="#9dbcec" opacity="0.8"/>
<circle cx="291.81" cy="96.08" r="0.45" fill="#9dbcec" opacity="0.8"/>
<circle cx="290.51" cy="106.38" r="0.45" fill="#9dbcec" opacity="0.8"/>
<circle cx="292.60" cy="108.64" r="0.45" fill="#9dbcec" opacity="0.8"/>
<circle cx="294.26" cy="102.35" r="0.45" fill="#9dbcec" opacity="0.8"/>
<circle cx="283.62" cy="108.45" r="0.45" fill="#9dbcec" opacity="0.8"/>
<circle cx="293.75" cy="109.64" r="0.45" fill="#9dbcec" opacity="0.8"/>
<circle cx="286.42" cy="111.59" r="0.45" fill="#9dbcec" opacity="0.8"/>
<circle cx="293.84" cy="93.55" r="0.45" fill="#9dbcec" opacity="0.8"/>
<circle cx="295.31" cy="93.03" r="0.45" fill="#9dbcec" opacity="0.8"/>
<circle cx="276.74" cy="98.91" r="0.45" fill="#9dbcec" opacity="0.8"/>
<circle cx="277.86" cy="99.81" r="0.45" fill="#9dbcec" opacity="0.8"/>
<circle cx="297.34" cy="104.82" r="0.45" fill="#9dbcec" opacity="0.8"/>
<circle cx="291.60" cy="97.19" r="0.45" fill="#9dbcec" opacity="0.8"/>
<circle cx="293.73" cy="107.63" r="0.45" fill="#9dbcec" opacity="0.8"/>
<circle cx="294.95" cy="97.56" r="0.45" fill="#9dbcec" opacity="0.8"/>
<circle cx="273.53" cy="103.96" r="0.45" fill="#9dbcec" opacity="0.8"/>
<circle cx="295.25" cy="95.83" r="0.45" fill="#9dbcec" opacity="0.8"/>
<circle cx="288.25" cy="108.74" r="0.45" fill="#9dbcec" opacity="0.8"/>
<circle cx="283.14" cy="102.72" r="0.45" fill="#9dbcec" opacity="0.8"/>
<circle cx="284.27" cy="95.72" r="0.45" fill="#9dbcec" opacity="0.8"/>
<circle cx="277.20" cy="96.20" r="0.45" fill="#9dbcec" opacity="0.8"/>
<circle cx="295.49" cy="103.10" r="0.45" fill="#9dbcec" opacity="0.8"/>
<circle cx="278.86" cy="105.23" r="0.45" fill="#9dbcec" opacity="0.8"/>
<circle cx="283.82" cy="104.19" r="0.45" fill="#9dbcec" opacity="0.8"/>
<circle cx="294.87" cy="91.79" r="0.45" fill="#9dbcec" opacity="0.8"/>
<circle cx="281.51" cy="92.83" r="0.45" fill="#9dbcec" opacity="0.8"/>
<circle cx="296.81" cy="102.87" r="0.45" fill="#9dbcec" opacity="0.8"/>
<circle cx="296.92" cy="97.25" r="0.45" fill="#9dbcec" opacity="0.8"/>
<circle cx="285.49" cy="111.85" r="0.45" fill="#9dbcec" opacity="0.8"/>
<circle cx="276.49" cy="108.60" r="0.45" fill="#9dbcec" opacity="0.8"/>
<circle cx="275.70" cy="100.71" r="0.45" fill="#9dbcec" opacity="0.8"/>
<circle cx="298.41" cy="98.82" r="0.45" fill="#9dbcec" opacity="0.8"/>
<circle cx="294.47" cy="93.52" r="0.45" fill="#9dbcec" opacity="0.8"/>
<circle cx="281.22" cy="89.62" r="0.45" fill="#9dbcec" opacity="0.8"/>
<circle cx="287.03" cy="109.42" r="0.45" fill="#9dbcec" opacity="0.8"/>
<circle cx="285.90" cy="96.79" r="0.45" fill="#9dbcec" opacity="0.8"/>
<circle cx="289.10" cy="98.55" r="0.45" fill="#9dbcec" opacity="0.8"/>
<circle cx="290.17" cy="103.43" r="0.45" fill="#9dbcec" opacity="0.8"/>
<circle cx="281.90" cy="100.58" r="0.45" fill="#9dbcec" opacity="0.8"/>
<circle cx="290.62" cy="110.59" r="0.45" fill="#9dbcec" opacity="0.8"/>
<circle cx="285.45" cy="96.46" r="0.45" fill="#9dbcec" opacity="0.8"/>
<circle cx="295.21" cy="104.77" r="0.45" fill="#9dbcec" opacity="0.8"/>
<circle cx="287.16" cy="98.64" r="0.45" fill="#9dbcec" opacity="0.8"/>
<circle cx="292.78" cy="110.17" r="0.45" fill="#9dbcec" opacity="0.8"/>
<circle cx="292.14" cy="106.50" r="0.45" fill="#9dbcec" opacity="0.8"/>
<circle cx="288.04" cy="102.00" r="0.45" fill="#9dbcec" opacity="0.8"/>
<circle cx="292.67" cy="103.68" r="0.45" fill="#9dbcec" opacity="0.8"/>
<circle cx="279.15" cy="106.82" r="0.45" fill="#9dbcec" opacity="0.8"/>
<circle cx="279.44" cy="101.15" r="0.45" fill="#9dbcec" opacity="0.8"/>
<circle cx="289.82" cy="107.93" r="0.45" fill="#9dbcec" opacity="0.8"/>
<circle cx="290.62" cy="96.89" r="0.45" fill="#9dbcec" opacity="0.8"/>
<circle cx="291.03" cy="94.21" r="0.45" fill="#9dbcec" opacity="0.8"/>
<circle cx="275.69" cy="101.95" r="0.45" fill="#9dbcec" opacity="0.8"/>
<circle cx="294.95" cy="107.64" r="0.45" fill="#9dbcec" opacity="0.8"/>
<circle cx="281.07" cy="90.64" r="0.45" fill="#9dbcec" opacity="0.8"/>
<circle cx="285.96" cy="109.81" r="0.45" fill="#9dbcec" opacity="0.8"/>
<circle cx="275.70" cy="106.20" r="0.45" fill="#9dbcec" opacity="0.8"/>
<circle cx="275.95" cy="95.11" r="0.45" fill="#9dbcec" opacity="0.8"/>
<circle cx="276.72" cy="95.34" r="0.45" fill="#9dbcec" opacity="0.8"/>
<ellipse cx="285.4" cy="100.3" rx="11.0" ry="10.0" fill="#3c62d6" opacity="1" transform="rotate(20 285.4 100.3)"/>
<ellipse cx="290.5" cy="105.5" rx="5.5" ry="4.0" fill="#3c62d6" opacity="1" transform="rotate(25 290.5 105.5)"/>
<ellipse cx="285.5" cy="99.9" rx="7.9" ry="7.0" fill="#3ab0e0" opacity="1" transform="rotate(0 285.5 99.9)"/>
<ellipse cx="285.6" cy="99.5" rx="5.9" ry="5.1" fill="#44b860" opacity="1" transform="rotate(0 285.6 99.5)"/>
<ellipse cx="285.6" cy="99.2" rx="3.4" ry="3.0" fill="#c8cc3c" opacity="1" transform="rotate(0 285.6 99.2)"/>
<ellipse cx="285.7" cy="99.0" rx="1.7" ry="1.6" fill="#f08a1e" opacity="1" transform="rotate(0 285.7 99.0)"/>
<ellipse cx="285.7" cy="98.9" rx="0.8" ry="0.8" fill="#e2321e" opacity="1" transform="rotate(0 285.7 98.9)"/>
</g>
<circle cx="283.96" cy="91.49" r="0.42" fill="#2448c0" opacity="0.75"/>
<circle cx="279.51" cy="98.06" r="0.42" fill="#2448c0" opacity="0.75"/>
<circle cx="279.67" cy="93.69" r="0.42" fill="#2448c0" opacity="0.75"/>
<circle cx="295.72" cy="99.36" r="0.42" fill="#2448c0" opacity="0.75"/>
<circle cx="293.93" cy="103.65" r="0.42" fill="#2448c0" opacity="0.75"/>
<circle cx="292.47" cy="96.24" r="0.42" fill="#2448c0" opacity="0.75"/>
<circle cx="276.80" cy="106.41" r="0.42" fill="#2448c0" opacity="0.75"/>
<circle cx="284.76" cy="101.85" r="0.42" fill="#2448c0" opacity="0.75"/>
<circle cx="289.77" cy="106.31" r="0.42" fill="#2448c0" opacity="0.75"/>
<circle cx="279.88" cy="97.34" r="0.42" fill="#2448c0" opacity="0.75"/>
<circle cx="295.94" cy="101.17" r="0.42" fill="#2448c0" opacity="0.75"/>
<circle cx="280.21" cy="103.49" r="0.42" fill="#2448c0" opacity="0.75"/>
<circle cx="279.49" cy="106.74" r="0.42" fill="#2448c0" opacity="0.75"/>
<circle cx="287.16" cy="97.13" r="0.42" fill="#2448c0" opacity="0.75"/>
<circle cx="286.71" cy="106.34" r="0.42" fill="#2448c0" opacity="0.75"/>
<circle cx="289.95" cy="98.49" r="0.42" fill="#2448c0" opacity="0.75"/>
<circle cx="280.67" cy="103.83" r="0.42" fill="#2448c0" opacity="0.75"/>
<circle cx="290.30" cy="106.82" r="0.42" fill="#2448c0" opacity="0.75"/>
<circle cx="291.56" cy="96.86" r="0.42" fill="#2448c0" opacity="0.75"/>
<circle cx="282.81" cy="107.53" r="0.42" fill="#2448c0" opacity="0.75"/>
<circle cx="281.74" cy="93.27" r="0.42" fill="#2448c0" opacity="0.75"/>
<circle cx="294.79" cy="101.23" r="0.42" fill="#2448c0" opacity="0.75"/>
<circle cx="286.03" cy="104.40" r="0.42" fill="#2448c0" opacity="0.75"/>
<circle cx="283.33" cy="100.55" r="0.42" fill="#2448c0" opacity="0.75"/>
<circle cx="294.30" cy="104.36" r="0.42" fill="#2448c0" opacity="0.75"/>
<circle cx="287.45" cy="98.28" r="0.42" fill="#2448c0" opacity="0.75"/>
<circle cx="287.34" cy="95.30" r="0.42" fill="#2448c0" opacity="0.75"/>
<circle cx="289.79" cy="106.34" r="0.42" fill="#2448c0" opacity="0.75"/>
<circle cx="285.51" cy="109.66" r="0.42" fill="#2448c0" opacity="0.75"/>
<circle cx="293.52" cy="103.92" r="0.42" fill="#2448c0" opacity="0.75"/>
<circle cx="290.60" cy="105.19" r="0.42" fill="#2448c0" opacity="0.75"/>
<circle cx="288.31" cy="95.33" r="0.42" fill="#2448c0" opacity="0.75"/>
<circle cx="274.68" cy="102.88" r="0.42" fill="#2448c0" opacity="0.75"/>
<circle cx="293.61" cy="95.28" r="0.42" fill="#2448c0" opacity="0.75"/>
<circle cx="278.33" cy="94.15" r="0.42" fill="#2448c0" opacity="0.75"/>
<circle cx="275.35" cy="104.55" r="0.42" fill="#2448c0" opacity="0.75"/>
<circle cx="281.99" cy="105.09" r="0.42" fill="#2448c0" opacity="0.75"/>
<circle cx="288.73" cy="92.19" r="0.42" fill="#2448c0" opacity="0.75"/>
<circle cx="284.14" cy="101.76" r="0.42" fill="#2448c0" opacity="0.75"/>
<circle cx="278.61" cy="103.48" r="0.42" fill="#2448c0" opacity="0.75"/>
<circle cx="281.50" cy="96.61" r="0.42" fill="#2448c0" opacity="0.75"/>
<rect x="75.5" y="40.5" width="35.0" height="46.7" fill="none" stroke="#5a5a5a" stroke-width="0.8" />
<text x="102.9" y="48.3" font-size="5.4" text-anchor="middle" font-weight="normal" fill="#222" textLength="13.0" lengthAdjust="spacingAndGlyphs" >GFP+</text>
<text x="102.1" y="53.9" font-size="5.4" text-anchor="middle" font-weight="normal" fill="#222" textLength="10.3" lengthAdjust="spacingAndGlyphs" >0.24</text>
<rect x="170.9" y="42.7" width="34.900000000000006" height="46.3" fill="none" stroke="#5a5a5a" stroke-width="0.8" />
<text x="195.4" y="48.1" font-size="5.4" text-anchor="middle" font-weight="normal" fill="#222" textLength="13.0" lengthAdjust="spacingAndGlyphs" >GFP+</text>
<text x="195.75" y="54.8" font-size="5.4" text-anchor="middle" font-weight="normal" fill="#222" textLength="10.3" lengthAdjust="spacingAndGlyphs" >71.9</text>
<rect x="277.4" y="42.7" width="34.900000000000034" height="46.5" fill="none" stroke="#5a5a5a" stroke-width="0.8" />
<text x="302.5" y="49.2" font-size="5.4" text-anchor="middle" font-weight="normal" fill="#222" textLength="13.0" lengthAdjust="spacingAndGlyphs" >GFP+</text>
<text x="302.3" y="55.7" font-size="5.4" text-anchor="middle" font-weight="normal" fill="#222" textLength="10.3" lengthAdjust="spacingAndGlyphs" >0.69</text>
<line x1="11.1" y1="99.8" x2="11.1" y2="45.0" stroke="#333" stroke-width="0.9" />
<path d="M11.1 41.3 L13.0 46.3 L9.2 46.3 Z" fill="#222"/>
<text transform="translate(13.3,108.3) rotate(-90)" font-size="7.4" text-anchor="middle" fill="#333" font-weight="bold" textLength="10.8" lengthAdjust="spacingAndGlyphs">GFP</text>
<text x="38.6" y="135.9" font-size="7.4" text-anchor="start" font-weight="bold" fill="#333" textLength="19.8" lengthAdjust="spacingAndGlyphs" >huCD45</text>
<line x1="61.4" y1="133.4" x2="305" y2="133.4" stroke="#333" stroke-width="0.9" />
<path d="M308.9 133.4 L303.6 131.4 L303.6 135.4 Z" fill="#222"/>
<text x="439.55" y="13.4" font-size="7.9" text-anchor="middle" font-weight="normal" fill="#222" textLength="97.3" lengthAdjust="spacingAndGlyphs" >% of GFP within huCD45+</text>
<text x="440.55" y="22.8" font-size="7.9" text-anchor="middle" font-weight="normal" fill="#222" textLength="63.3" lengthAdjust="spacingAndGlyphs" >in different organs</text>
<line x1="365.5" y1="36.4" x2="365.5" y2="80.4" stroke="#2a2a2a" stroke-width="1.0" />
<line x1="365.5" y1="86.0" x2="365.5" y2="128.4" stroke="#2a2a2a" stroke-width="1.0" />
<line x1="364.6" y1="80.9" x2="366.4" y2="79.9" stroke="#2a2a2a" stroke-width="0.9" />
<line x1="364.6" y1="86.3" x2="366.4" y2="85.3" stroke="#2a2a2a" stroke-width="0.9" />
<line x1="365.5" y1="128.4" x2="513.6" y2="128.4" stroke="#2a2a2a" stroke-width="1.0" />
<line x1="363.1" y1="38.6" x2="365.5" y2="38.6" stroke="#2a2a2a" stroke-width="0.9" />
<text x="360.1" y="40.7" font-size="6.0" text-anchor="end" font-weight="normal" fill="#333" >100</text>
<line x1="363.1" y1="47.25" x2="365.5" y2="47.25" stroke="#2a2a2a" stroke-width="0.9" />
<text x="360.1" y="49.35" font-size="6.0" text-anchor="end" font-weight="normal" fill="#333" >80</text>
<line x1="363.1" y1="55.900000000000006" x2="365.5" y2="55.900000000000006" stroke="#2a2a2a" stroke-width="0.9" />
<text x="360.1" y="58.00000000000001" font-size="6.0" text-anchor="end" font-weight="normal" fill="#333" >60</text>
<line x1="363.1" y1="64.55" x2="365.5" y2="64.55" stroke="#2a2a2a" stroke-width="0.9" />
<text x="360.1" y="66.64999999999999" font-size="6.0" text-anchor="end" font-weight="normal" fill="#333" >40</text>
<line x1="363.1" y1="73.2" x2="365.5" y2="73.2" stroke="#2a2a2a" stroke-width="0.9" />
<text x="360.1" y="75.3" font-size="6.0" text-anchor="end" font-weight="normal" fill="#333" >20</text>
<line x1="363.1" y1="86.5" x2="365.5" y2="86.5" stroke="#2a2a2a" stroke-width="0.9" />
<text x="360.1" y="88.8" font-size="6.0" text-anchor="end" font-weight="normal" fill="#333" >2.0</text>
<line x1="363.1" y1="96.97500000000001" x2="365.5" y2="96.97500000000001" stroke="#2a2a2a" stroke-width="0.9" />
<text x="360.1" y="99.275" font-size="6.0" text-anchor="end" font-weight="normal" fill="#333" >1.5</text>
<line x1="363.1" y1="107.45" x2="365.5" y2="107.45" stroke="#2a2a2a" stroke-width="0.9" />
<text x="360.1" y="109.75" font-size="6.0" text-anchor="end" font-weight="normal" fill="#333" >1.0</text>
<line x1="363.1" y1="117.92500000000001" x2="365.5" y2="117.92500000000001" stroke="#2a2a2a" stroke-width="0.9" />
<text x="360.1" y="120.22500000000001" font-size="6.0" text-anchor="end" font-weight="normal" fill="#333" >0.5</text>
<line x1="363.1" y1="128.4" x2="365.5" y2="128.4" stroke="#2a2a2a" stroke-width="0.9" />
<text x="360.1" y="130.70000000000002" font-size="6.0" text-anchor="end" font-weight="normal" fill="#333" >0.0</text>
<text transform="translate(343.4,81.8) rotate(-90)" font-size="7.0" font-weight="normal" text-anchor="middle" fill="#222" textLength="90.5" lengthAdjust="spacingAndGlyphs">Freq of GFP+ within huCD45+ (%)</text>
<line x1="372.7" y1="128.4" x2="372.7" y2="130.0" stroke="#2a2a2a" stroke-width="0.7" />
<line x1="383" y1="128.4" x2="383" y2="130.0" stroke="#2a2a2a" stroke-width="0.7" />
<line x1="393.3" y1="128.4" x2="393.3" y2="130.0" stroke="#2a2a2a" stroke-width="0.7" />
<line x1="410.2" y1="128.4" x2="410.2" y2="130.0" stroke="#2a2a2a" stroke-width="0.7" />
<line x1="420.4" y1="128.4" x2="420.4" y2="130.0" stroke="#2a2a2a" stroke-width="0.7" />
<line x1="430.7" y1="128.4" x2="430.7" y2="130.0" stroke="#2a2a2a" stroke-width="0.7" />
<line x1="448.5" y1="128.4" x2="448.5" y2="130.0" stroke="#2a2a2a" stroke-width="0.7" />
<line x1="458.3" y1="128.4" x2="458.3" y2="130.0" stroke="#2a2a2a" stroke-width="0.7" />
<line x1="468.7" y1="128.4" x2="468.7" y2="130.0" stroke="#2a2a2a" stroke-width="0.7" />
<line x1="485.4" y1="128.4" x2="485.4" y2="130.0" stroke="#2a2a2a" stroke-width="0.7" />
<line x1="495.8" y1="128.4" x2="495.8" y2="130.0" stroke="#2a2a2a" stroke-width="0.7" />
<line x1="505.8" y1="128.4" x2="505.8" y2="130.0" stroke="#2a2a2a" stroke-width="0.7" />
<line x1="372.8" y1="111.6" x2="372.8" y2="120.5" stroke="#7a2a3a" stroke-width="0.8" />
<line x1="371.5" y1="111.6" x2="374.1" y2="111.6" stroke="#7a2a3a" stroke-width="0.8" />
<rect x="369.90000000000003" y="120.3" width="5.8" height="8.100000000000009" fill="#2fa946" stroke="none" stroke-width="0" />
<rect x="371.2" y="122.9" width="3.2" height="3.2" fill="none" stroke="#1b5e20" stroke-width="0.6"/>
<circle cx="372.4" cy="87.4" r="2.1" fill="white" stroke="#222" stroke-width="0.75"/>
<ellipse cx="372.6" cy="128.4" rx="2.8" ry="1.8" fill="#333"/>
<line x1="383.0" y1="60.8" x2="383.0" y2="67.6" stroke="#333" stroke-width="0.8" />
<line x1="381.7" y1="60.8" x2="384.3" y2="60.8" stroke="#333" stroke-width="0.8" />
<rect x="380.1" y="67.6" width="5.8" height="13.0" fill="#f5981e" stroke="none" stroke-width="0" />
<rect x="380.1" y="85.7" width="5.8" height="42.7" fill="#f5981e" stroke="none" stroke-width="0" />
<rect x="381.1" y="48.4" width="3.8" height="3.8" fill="white" stroke="#222" stroke-width="0.7"/>
<rect x="381.1" y="53.300000000000004" width="3.8" height="3.8" fill="white" stroke="#222" stroke-width="0.7"/>
<rect x="380.59999999999997" y="69.4" width="3.6" height="3.6" fill="none" stroke="#7a4a10" stroke-width="0.7"/>
<rect x="381.59999999999997" y="71.2" width="3.6" height="3.6" fill="none" stroke="#7a4a10" stroke-width="0.7"/>
<rect x="382.59999999999997" y="72.60000000000001" width="3.6" height="3.6" fill="none" stroke="#7a4a10" stroke-width="0.7"/>
<rect x="381.0" y="73.0" width="3.6" height="3.6" fill="none" stroke="#7a4a10" stroke-width="0.7"/>
<rect x="381.3" y="124.7" width="3.4" height="3.4" fill="none" stroke="#7a4a10" stroke-width="0.7"/>
<line x1="393.3" y1="121.5" x2="393.3" y2="125.5" stroke="#7a2a3a" stroke-width="0.8" />
<line x1="392.0" y1="121.5" x2="394.6" y2="121.5" stroke="#7a2a3a" stroke-width="0.8" />
<rect x="390.40000000000003" y="125.4" width="5.8" height="3.0" fill="#b3153a" stroke="none" stroke-width="0" />
<path d="M393.6 112.99000000000001 L395.5 116.41 L391.70000000000005 116.41 Z" fill="white" stroke="#222" stroke-width="0.7" stroke-linejoin="miter"/>
<ellipse cx="393.3" cy="127.6" rx="2.6" ry="1.4" fill="#3a1010"/>
<ellipse cx="410.2" cy="128.4" rx="3.0" ry="2.0" fill="#1a1a1a"/>
<line x1="420.4" y1="56.5" x2="420.4" y2="65.1" stroke="#333" stroke-width="0.8" />
<line x1="419.09999999999997" y1="56.5" x2="421.7" y2="56.5" stroke="#333" stroke-width="0.8" />
<rect x="417.5" y="65.1" width="5.8" height="15.5" fill="#f5981e" stroke="none" stroke-width="0" />
<rect x="417.5" y="85.7" width="5.8" height="42.7" fill="#f5981e" stroke="none" stroke-width="0" />
<rect x="418.5" y="41.2" width="3.8" height="3.8" fill="white" stroke="#222" stroke-width="0.7"/>
<rect x="418.5" y="45.9" width="3.8" height="3.8" fill="white" stroke="#222" stroke-width="0.7"/>
<rect x="418.59999999999997" y="65.2" width="3.6" height="3.6" fill="none" stroke="#7a4a10" stroke-width="0.7"/>
<rect x="418.59999999999997" y="67.7" width="3.6" height="3.6" fill="none" stroke="#7a4a10" stroke-width="0.6"/>
<rect x="418.7" y="124.7" width="3.4" height="3.4" fill="none" stroke="#7a4a10" stroke-width="0.7"/>
<line x1="430.8" y1="108.8" x2="430.8" y2="119.4" stroke="#7a2a3a" stroke-width="0.8" />
<line x1="429.5" y1="108.8" x2="432.1" y2="108.8" stroke="#7a2a3a" stroke-width="0.8" />
<rect x="427.90000000000003" y="119.4" width="5.8" height="9.0" fill="#b3153a" stroke="none" stroke-width="0" />
<path d="M430.3 79.49000000000001 L432.2 82.91 L428.40000000000003 82.91 Z" fill="white" stroke="#222" stroke-width="0.7" stroke-linejoin="miter"/>
<ellipse cx="430.8" cy="127.6" rx="2.6" ry="1.4" fill="#3a1010"/>
<ellipse cx="448.5" cy="128.4" rx="3.0" ry="2.0" fill="#1a1a1a"/>
<line x1="458.3" y1="59.6" x2="458.3" y2="65.1" stroke="#333" stroke-width="0.8" />
<line x1="457.0" y1="59.6" x2="459.6" y2="59.6" stroke="#333" stroke-width="0.8" />
<rect x="455.40000000000003" y="65.1" width="5.8" height="15.5" fill="#f5981e" stroke="none" stroke-width="0" />
<rect x="455.40000000000003" y="85.7" width="5.8" height="42.7" fill="#f5981e" stroke="none" stroke-width="0" />
<rect x="455.0" y="47.1" width="3.8" height="3.8" fill="white" stroke="#222" stroke-width="0.7"/>
<rect x="457.70000000000005" y="49.0" width="3.8" height="3.8" fill="none" stroke="#222" stroke-width="0.7"/>
<rect x="456.5" y="65.0" width="3.6" height="3.6" fill="none" stroke="#7a4a10" stroke-width="0.7"/>
<rect x="456.5" y="67.8" width="3.6" height="3.6" fill="none" stroke="#7a4a10" stroke-width="0.6"/>
<rect x="456.6" y="124.7" width="3.4" height="3.4" fill="none" stroke="#333" stroke-width="0.7"/>
<line x1="468.8" y1="122.6" x2="468.8" y2="126.5" stroke="#7a2a3a" stroke-width="0.8" />
<line x1="467.5" y1="122.6" x2="470.1" y2="122.6" stroke="#7a2a3a" stroke-width="0.8" />
<rect x="465.90000000000003" y="126.4" width="5.8" height="2.0" fill="#b3153a" stroke="none" stroke-width="0" />
<path d="M468.6 111.19000000000001 L470.5 114.61 L466.70000000000005 114.61 Z" fill="white" stroke="#222" stroke-width="0.7" stroke-linejoin="miter"/>
<ellipse cx="468.8" cy="127.6" rx="2.6" ry="1.4" fill="#3a1010"/>
<circle cx="485.4" cy="119.2" r="2.1" fill="white" stroke="#222" stroke-width="0.75"/>
<circle cx="485.4" cy="128.0" r="2.0" fill="none" stroke="#222" stroke-width="0.9"/>
<circle cx="485.4" cy="127.6" r="1.2" fill="none" stroke="#444" stroke-width="0.6"/>
<rect x="492.90000000000003" y="86.0" width="5.8" height="42.400000000000006" fill="#f5981e" stroke="none" stroke-width="0" />
<rect x="493.9" y="71.10000000000001" width="3.6" height="3.6" fill="white" stroke="#222" stroke-width="0.7"/>
<rect x="493.9" y="77.5" width="3.6" height="3.6" fill="none" stroke="#7a4a10" stroke-width="0.7"/>
<rect x="494.1" y="91.3" width="3.4" height="3.4" fill="none" stroke="#7a4a10" stroke-width="0.7"/>
<rect x="494.1" y="97.8" width="3.4" height="3.4" fill="none" stroke="#7a4a10" stroke-width="0.7"/>
<rect x="494.1" y="112.89999999999999" width="3.4" height="3.4" fill="none" stroke="#7a4a10" stroke-width="0.7"/>
<rect x="494.1" y="124.7" width="3.4" height="3.4" fill="none" stroke="#7a4a10" stroke-width="0.7"/>
<path d="M505.8 125.01 L507.90000000000003 128.79 L503.7 128.79 Z" fill="#333" stroke="#222" stroke-width="0.7" stroke-linejoin="miter"/>
<line x1="372.4" y1="40.4" x2="382.4" y2="40.4" stroke="#6e6e6e" stroke-width="0.85" />
<text x="377.4" y="41.3" font-size="6.4" text-anchor="middle" font-weight="normal" fill="#333" >**</text>
<line x1="382.4" y1="33.8" x2="393.0" y2="33.8" stroke="#6e6e6e" stroke-width="0.85" />
<text x="387.7" y="34.699999999999996" font-size="6.4" text-anchor="middle" font-weight="normal" fill="#333" >**</text>
<line x1="410.5" y1="39.4" x2="420.4" y2="39.4" stroke="#6e6e6e" stroke-width="0.85" />
<text x="415.45" y="40.3" font-size="6.4" text-anchor="middle" font-weight="normal" fill="#333" >**</text>
<line x1="422.3" y1="33.6" x2="432.2" y2="33.6" stroke="#6e6e6e" stroke-width="0.85" />
<text x="427.25" y="34.5" font-size="6.4" text-anchor="middle" font-weight="normal" fill="#333" >**</text>
<line x1="448.0" y1="40.4" x2="458.6" y2="40.4" stroke="#6e6e6e" stroke-width="0.85" />
<text x="453.3" y="41.3" font-size="6.4" text-anchor="middle" font-weight="normal" fill="#333" >**</text>
<line x1="458.6" y1="33.8" x2="469.7" y2="33.8" stroke="#6e6e6e" stroke-width="0.85" />
<text x="464.15" y="34.699999999999996" font-size="6.4" text-anchor="middle" font-weight="normal" fill="#333" >**</text>
<text x="383.0" y="139.5" font-size="6.3" text-anchor="middle" font-weight="normal" fill="#333" >BM</text>
<text x="420.4" y="139.5" font-size="6.3" text-anchor="middle" font-weight="normal" fill="#333" >PB</text>
<text x="458.4" y="139.5" font-size="6.3" text-anchor="middle" font-weight="normal" fill="#333" >Sp</text>
<text x="496.3" y="139.5" font-size="6.3" text-anchor="middle" font-weight="normal" fill="#333" >Thy</text>
<circle cx="392.7" cy="148.6" r="1.45" fill="none" stroke="#333" stroke-width="0.65"/>
<text x="397.0" y="151.2" font-size="6.9" text-anchor="start" font-weight="normal" fill="#333" textLength="10.6" lengthAdjust="spacingAndGlyphs" >STF</text>
<rect x="413.90000000000003" y="147.2" width="2.8" height="2.8" fill="none" stroke="#333" stroke-width="0.65"/>
<text x="419.5" y="151.2" font-size="6.9" text-anchor="start" font-weight="normal" fill="#333" textLength="17.6" lengthAdjust="spacingAndGlyphs" >STF+Q</text>
<path d="M447.2 147.45000000000002 L448.7 150.15 L445.7 150.15 Z" fill="none" stroke="#333" stroke-width="0.65" stroke-linejoin="miter"/>
<text x="451.2" y="151.2" font-size="6.9" text-anchor="start" font-weight="normal" fill="#333" textLength="36.4" lengthAdjust="spacingAndGlyphs" >STF+CPI203</text>
<text x="144.85" y="175.0" font-size="8.2" text-anchor="middle" font-weight="normal" fill="#222" textLength="131.3" lengthAdjust="spacingAndGlyphs" >% of GFP+ within populations in BM</text>
<line x1="33.5" y1="181.4" x2="33.5" y2="221.3" stroke="#2a2a2a" stroke-width="1.0" />
<line x1="33.5" y1="227.9" x2="33.5" y2="266.7" stroke="#2a2a2a" stroke-width="1.0" />
<line x1="32.6" y1="221.8" x2="34.4" y2="220.8" stroke="#2a2a2a" stroke-width="0.9" />
<line x1="32.6" y1="228.4" x2="34.4" y2="227.4" stroke="#2a2a2a" stroke-width="0.9" />
<line x1="33.5" y1="267.0" x2="256.0" y2="267.0" stroke="#4a4a4a" stroke-width="1.7" />
<line x1="31.0" y1="184.17999999999998" x2="33.5" y2="184.17999999999998" stroke="#2a2a2a" stroke-width="0.9" />
<text x="26.9" y="186.27999999999997" font-size="6.0" text-anchor="end" font-weight="normal" fill="#333" >100</text>
<line x1="31.0" y1="192.06" x2="33.5" y2="192.06" stroke="#2a2a2a" stroke-width="0.9" />
<text x="26.9" y="194.16" font-size="6.0" text-anchor="end" font-weight="normal" fill="#333" >80</text>
<line x1="31.0" y1="199.94" x2="33.5" y2="199.94" stroke="#2a2a2a" stroke-width="0.9" />
<text x="26.9" y="202.04" font-size="6.0" text-anchor="end" font-weight="normal" fill="#333" >60</text>
<line x1="31.0" y1="207.82" x2="33.5" y2="207.82" stroke="#2a2a2a" stroke-width="0.9" />
<text x="26.9" y="209.92" font-size="6.0" text-anchor="end" font-weight="normal" fill="#333" >40</text>
<line x1="31.0" y1="215.7" x2="33.5" y2="215.7" stroke="#2a2a2a" stroke-width="0.9" />
<text x="26.9" y="217.79999999999998" font-size="6.0" text-anchor="end" font-weight="normal" fill="#333" >20</text>
<line x1="31.0" y1="228.29999999999998" x2="33.5" y2="228.29999999999998" stroke="#2a2a2a" stroke-width="0.9" />
<text x="26.7" y="230.49999999999997" font-size="6.0" text-anchor="end" font-weight="normal" fill="#333" >2.0</text>
<line x1="31.0" y1="237.89999999999998" x2="33.5" y2="237.89999999999998" stroke="#2a2a2a" stroke-width="0.9" />
<text x="26.7" y="240.09999999999997" font-size="6.0" text-anchor="end" font-weight="normal" fill="#333" >1.5</text>
<line x1="31.0" y1="247.5" x2="33.5" y2="247.5" stroke="#2a2a2a" stroke-width="0.9" />
<text x="26.7" y="249.7" font-size="6.0" text-anchor="end" font-weight="normal" fill="#333" >1.0</text>
<line x1="31.0" y1="257.09999999999997" x2="33.5" y2="257.09999999999997" stroke="#2a2a2a" stroke-width="0.9" />
<text x="26.7" y="259.29999999999995" font-size="6.0" text-anchor="end" font-weight="normal" fill="#333" >0.5</text>
<line x1="31.0" y1="266.7" x2="33.5" y2="266.7" stroke="#2a2a2a" stroke-width="0.9" />
<text x="26.7" y="268.9" font-size="6.0" text-anchor="end" font-weight="normal" fill="#333" >0.0</text>
<text transform="translate(12.9,224.6) rotate(-90)" font-size="6.9" font-weight="normal" text-anchor="middle" fill="#222" textLength="45.7" lengthAdjust="spacingAndGlyphs">Freq of GFP+ (%)</text>
<line x1="40.1" y1="266.7" x2="40.1" y2="268.6" stroke="#2a2a2a" stroke-width="0.7" />
<line x1="50.7" y1="266.7" x2="50.7" y2="268.6" stroke="#2a2a2a" stroke-width="0.7" />
<line x1="61.0" y1="266.7" x2="61.0" y2="268.6" stroke="#2a2a2a" stroke-width="0.7" />
<line x1="77.72" y1="266.7" x2="77.72" y2="268.6" stroke="#2a2a2a" stroke-width="0.7" />
<line x1="88.32" y1="266.7" x2="88.32" y2="268.6" stroke="#2a2a2a" stroke-width="0.7" />
<line x1="98.61999999999999" y1="266.7" x2="98.61999999999999" y2="268.6" stroke="#2a2a2a" stroke-width="0.7" />
<line x1="115.34" y1="266.7" x2="115.34" y2="268.6" stroke="#2a2a2a" stroke-width="0.7" />
<line x1="125.94" y1="266.7" x2="125.94" y2="268.6" stroke="#2a2a2a" stroke-width="0.7" />
<line x1="136.24" y1="266.7" x2="136.24" y2="268.6" stroke="#2a2a2a" stroke-width="0.7" />
<line x1="152.96" y1="266.7" x2="152.96" y2="268.6" stroke="#2a2a2a" stroke-width="0.7" />
<line x1="163.56" y1="266.7" x2="163.56" y2="268.6" stroke="#2a2a2a" stroke-width="0.7" />
<line x1="173.86" y1="266.7" x2="173.86" y2="268.6" stroke="#2a2a2a" stroke-width="0.7" />
<line x1="190.58" y1="266.7" x2="190.58" y2="268.6" stroke="#2a2a2a" stroke-width="0.7" />
<line x1="201.18" y1="266.7" x2="201.18" y2="268.6" stroke="#2a2a2a" stroke-width="0.7" />
<line x1="211.48000000000002" y1="266.7" x2="211.48000000000002" y2="268.6" stroke="#2a2a2a" stroke-width="0.7" />
<line x1="228.20000000000002" y1="266.7" x2="228.20000000000002" y2="268.6" stroke="#2a2a2a" stroke-width="0.7" />
<line x1="238.8" y1="266.7" x2="238.8" y2="268.6" stroke="#2a2a2a" stroke-width="0.7" />
<line x1="249.10000000000002" y1="266.7" x2="249.10000000000002" y2="268.6" stroke="#2a2a2a" stroke-width="0.7" />
<ellipse cx="40.1" cy="266.7" rx="3.0" ry="2.0" fill="#1a1a1a"/>
<circle cx="40.4" cy="260.4" r="1.8" fill="white" stroke="#222" stroke-width="0.7"/>
<line x1="50.7" y1="210.7" x2="50.7" y2="214.2" stroke="#333" stroke-width="0.8" />
<line x1="49.400000000000006" y1="210.7" x2="52.0" y2="210.7" stroke="#333" stroke-width="0.8" />
<rect x="47.900000000000006" y="214.2" width="5.6" height="7.300000000000011" fill="#f5981e" stroke="none" stroke-width="0" />
<rect x="47.900000000000006" y="227.7" width="5.6" height="39.0" fill="#f5981e" stroke="none" stroke-width="0" />
<rect x="48.800000000000004" y="196.5" width="3.8" height="3.8" fill="white" stroke="#222" stroke-width="0.7"/>
<rect x="48.800000000000004" y="204.29999999999998" width="3.8" height="3.8" fill="white" stroke="#222" stroke-width="0.7"/>
<rect x="48.900000000000006" y="213.2" width="3.6" height="3.6" fill="none" stroke="#7a4a10" stroke-width="0.7"/>
<rect x="48.900000000000006" y="215.7" width="3.6" height="3.6" fill="none" stroke="#7a4a10" stroke-width="0.7"/>
<rect x="48.900000000000006" y="218.0" width="3.6" height="3.6" fill="none" stroke="#7a4a10" stroke-width="0.7"/>
<rect x="48.900000000000006" y="258.5" width="3.6" height="3.6" fill="none" stroke="#7a4a10" stroke-width="0.7"/>
<line x1="61.0" y1="262.0" x2="61.0" y2="265.5" stroke="#5a1a2a" stroke-width="0.8" />
<line x1="59.7" y1="262.0" x2="62.3" y2="262.0" stroke="#5a1a2a" stroke-width="0.8" />
<ellipse cx="61.0" cy="266.2" rx="2.6" ry="1.5" fill="#3a1010"/>
<path d="M61.0 252.79 L62.9 256.21 L59.1 256.21 Z" fill="white" stroke="#222" stroke-width="0.7" stroke-linejoin="miter"/>
<ellipse cx="77.72" cy="266.7" rx="3.0" ry="2.0" fill="#1a1a1a"/>
<line x1="88.32" y1="204.5" x2="88.32" y2="209.6" stroke="#333" stroke-width="0.8" />
<line x1="87.02" y1="204.5" x2="89.61999999999999" y2="204.5" stroke="#333" stroke-width="0.8" />
<rect x="85.52" y="209.6" width="5.6" height="11.900000000000006" fill="#f5981e" stroke="none" stroke-width="0" />
<rect x="85.52" y="227.7" width="5.6" height="39.0" fill="#f5981e" stroke="none" stroke-width="0" />
<rect x="86.41999999999999" y="192.6" width="3.8" height="3.8" fill="white" stroke="#222" stroke-width="0.7"/>
<rect x="86.41999999999999" y="200.79999999999998" width="3.8" height="3.8" fill="white" stroke="#222" stroke-width="0.7"/>
<rect x="86.52" y="208.7" width="3.6" height="3.6" fill="none" stroke="#7a4a10" stroke-width="0.7"/>
<rect x="86.52" y="211.2" width="3.6" height="3.6" fill="none" stroke="#7a4a10" stroke-width="0.7"/>
<rect x="86.52" y="213.7" width="3.6" height="3.6" fill="none" stroke="#7a4a10" stroke-width="0.7"/>
<rect x="86.61999999999999" y="263.6" width="3.4" height="3.4" fill="none" stroke="#7a4a10" stroke-width="0.7"/>
<line x1="98.61999999999999" y1="262.0" x2="98.61999999999999" y2="265.5" stroke="#5a1a2a" stroke-width="0.8" />
<line x1="97.32" y1="262.0" x2="99.91999999999999" y2="262.0" stroke="#5a1a2a" stroke-width="0.8" />
<ellipse cx="98.61999999999999" cy="266.2" rx="2.6" ry="1.5" fill="#3a1010"/>
<path d="M98.61999999999999 254.09 L100.52 257.51 L96.71999999999998 257.51 Z" fill="white" stroke="#222" stroke-width="0.7" stroke-linejoin="miter"/>
<line x1="115.34" y1="213.2" x2="115.34" y2="218.3" stroke="#333" stroke-width="0.8" />
<line x1="114.04" y1="213.2" x2="116.64" y2="213.2" stroke="#333" stroke-width="0.8" />
<rect x="112.54" y="218.3" width="5.6" height="3.1999999999999886" fill="#2fa946" stroke="none" stroke-width="0" />
<rect x="112.54" y="227.7" width="5.6" height="39.0" fill="#2fa946" stroke="none" stroke-width="0" />
<rect x="113.74000000000001" y="218.20000000000002" width="3.2" height="3.2" fill="none" stroke="#1b5e20" stroke-width="0.6"/>
<circle cx="115.34" cy="197.8" r="1.8" fill="white" stroke="#222" stroke-width="0.7"/>
<circle cx="115.34" cy="250.8" r="1.8" fill="none" stroke="#1b4d1f" stroke-width="0.7"/>
<ellipse cx="115.34" cy="266.7" rx="2.6" ry="1.5" fill="#1e3d20"/>
<line x1="125.94" y1="202.7" x2="125.94" y2="211.2" stroke="#333" stroke-width="0.8" />
<line x1="124.64" y1="202.7" x2="127.24" y2="202.7" stroke="#333" stroke-width="0.8" />
<rect x="123.14" y="211.2" width="5.6" height="10.300000000000011" fill="#f5981e" stroke="none" stroke-width="0" />
<rect x="123.14" y="227.7" width="5.6" height="39.0" fill="#f5981e" stroke="none" stroke-width="0" />
<rect x="124.03999999999999" y="188.5" width="3.8" height="3.8" fill="white" stroke="#222" stroke-width="0.7"/>
<rect x="124.03999999999999" y="193.1" width="3.8" height="3.8" fill="white" stroke="#222" stroke-width="0.7"/>
<rect x="123.14" y="215.0" width="3.6" height="3.6" fill="none" stroke="#7a4a10" stroke-width="0.7"/>
<rect x="125.14" y="216.2" width="3.6" height="3.6" fill="none" stroke="#7a4a10" stroke-width="0.7"/>
<rect x="124.14" y="218.2" width="3.6" height="3.6" fill="none" stroke="#7a4a10" stroke-width="0.7"/>
<rect x="125.64" y="213.7" width="3.6" height="3.6" fill="none" stroke="#7a4a10" stroke-width="0.7"/>
<line x1="136.24" y1="235.4" x2="136.24" y2="238.5" stroke="#5a1a2a" stroke-width="0.8" />
<line x1="134.94" y1="235.4" x2="137.54000000000002" y2="235.4" stroke="#5a1a2a" stroke-width="0.8" />
<rect x="133.44" y="238.5" width="5.6" height="28.19999999999999" fill="#b3153a" stroke="none" stroke-width="0" />
<path d="M136.24 221.29 L138.14000000000001 224.71 L134.34 224.71 Z" fill="white" stroke="#222" stroke-width="0.7" stroke-linejoin="miter"/>
<path d="M136.24 228.29 L138.14000000000001 231.71 L134.34 231.71 Z" fill="white" stroke="#222" stroke-width="0.7" stroke-linejoin="miter"/>
<line x1="152.96" y1="215.5" x2="152.96" y2="218.0" stroke="#333" stroke-width="0.8" />
<line x1="151.66" y1="215.5" x2="154.26000000000002" y2="215.5" stroke="#333" stroke-width="0.8" />
<rect x="150.16" y="218.0" width="5.6" height="3.5" fill="#2fa946" stroke="none" stroke-width="0" />
<rect x="150.16" y="227.7" width="5.6" height="39.0" fill="#2fa946" stroke="none" stroke-width="0" />
<rect x="151.36" y="218.20000000000002" width="3.2" height="3.2" fill="none" stroke="#1b5e20" stroke-width="0.6"/>
<circle cx="152.96" cy="203.5" r="1.8" fill="white" stroke="#222" stroke-width="0.7"/>
<circle cx="152.96" cy="210.7" r="1.8" fill="white" stroke="#222" stroke-width="0.7"/>
<ellipse cx="152.96" cy="266.7" rx="2.6" ry="1.5" fill="#1e3d20"/>
<line x1="163.56" y1="212.0" x2="163.56" y2="216.5" stroke="#333" stroke-width="0.8" />
<line x1="162.26" y1="212.0" x2="164.86" y2="212.0" stroke="#333" stroke-width="0.8" />
<rect x="160.76" y="216.5" width="5.6" height="5.0" fill="#f5981e" stroke="none" stroke-width="0" />
<rect x="160.76" y="227.7" width="5.6" height="39.0" fill="#f5981e" stroke="none" stroke-width="0" />
<rect x="161.96" y="195.4" width="3.8" height="3.8" fill="white" stroke="#222" stroke-width="0.7"/>
<rect x="160.95999999999998" y="215.2" width="3.6" height="3.6" fill="none" stroke="#7a4a10" stroke-width="0.7"/>
<rect x="162.56" y="216.7" width="3.6" height="3.6" fill="none" stroke="#7a4a10" stroke-width="0.7"/>
<rect x="161.76" y="218.0" width="3.6" height="3.6" fill="none" stroke="#7a4a10" stroke-width="0.7"/>
<line x1="173.86" y1="240.0" x2="173.86" y2="248.5" stroke="#5a1a2a" stroke-width="0.8" />
<line x1="172.56" y1="240.0" x2="175.16000000000003" y2="240.0" stroke="#5a1a2a" stroke-width="0.8" />
<rect x="171.06" y="248.5" width="5.6" height="18.19999999999999" fill="#b3153a" stroke="none" stroke-width="0" />
<path d="M173.86 221.09 L175.76000000000002 224.51000000000002 L171.96 224.51000000000002 Z" fill="white" stroke="#222" stroke-width="0.7" stroke-linejoin="miter"/>
<ellipse cx="190.58" cy="266.7" rx="3.0" ry="2.0" fill="#1a1a1a"/>
<line x1="201.18" y1="208.0" x2="201.18" y2="213.5" stroke="#333" stroke-width="0.8" />
<line x1="199.88" y1="208.0" x2="202.48000000000002" y2="208.0" stroke="#333" stroke-width="0.8" />
<rect x="198.38" y="213.5" width="5.6" height="8.0" fill="#f5981e" stroke="none" stroke-width="0" />
<rect x="198.38" y="227.7" width="5.6" height="39.0" fill="#f5981e" stroke="none" stroke-width="0" />
<rect x="199.28" y="195.1" width="3.8" height="3.8" fill="white" stroke="#222" stroke-width="0.7"/>
<rect x="199.28" y="203.79999999999998" width="3.8" height="3.8" fill="white" stroke="#222" stroke-width="0.7"/>
<rect x="199.38" y="212.7" width="3.6" height="3.6" fill="none" stroke="#7a4a10" stroke-width="0.7"/>
<rect x="199.38" y="215.2" width="3.6" height="3.6" fill="none" stroke="#7a4a10" stroke-width="0.7"/>
<rect x="199.38" y="217.7" width="3.6" height="3.6" fill="none" stroke="#7a4a10" stroke-width="0.7"/>
<rect x="199.38" y="257.9" width="3.6" height="3.6" fill="none" stroke="#7a4a10" stroke-width="0.7"/>
<line x1="211.48000000000002" y1="262.0" x2="211.48000000000002" y2="265.5" stroke="#5a1a2a" stroke-width="0.8" />
<line x1="210.18" y1="262.0" x2="212.78000000000003" y2="262.0" stroke="#5a1a2a" stroke-width="0.8" />
<ellipse cx="211.48000000000002" cy="266.2" rx="2.6" ry="1.5" fill="#3a1010"/>
<path d="M211.48000000000002 252.69 L213.38000000000002 256.11 L209.58 256.11 Z" fill="white" stroke="#222" stroke-width="0.7" stroke-linejoin="miter"/>
<ellipse cx="228.20000000000002" cy="266.7" rx="3.0" ry="2.0" fill="#1a1a1a"/>
<line x1="238.8" y1="213.5" x2="238.8" y2="219.2" stroke="#333" stroke-width="0.8" />
<line x1="237.5" y1="213.5" x2="240.10000000000002" y2="213.5" stroke="#333" stroke-width="0.8" />
<rect x="236.0" y="219.2" width="5.6" height="2.3000000000000114" fill="#f5981e" stroke="none" stroke-width="0" />
<rect x="236.0" y="227.7" width="5.6" height="39.0" fill="#f5981e" stroke="none" stroke-width="0" />
<rect x="235.9" y="204.29999999999998" width="3.8" height="3.8" fill="white" stroke="#222" stroke-width="0.7"/>
<rect x="238.70000000000002" y="205.79999999999998" width="3.8" height="3.8" fill="none" stroke="#222" stroke-width="0.7"/>
<rect x="237.0" y="218.7" width="3.6" height="3.6" fill="none" stroke="#7a4a10" stroke-width="0.7"/>
<rect x="237.0" y="248.0" width="3.6" height="3.6" fill="none" stroke="#7a4a10" stroke-width="0.7"/>
<rect x="237.20000000000002" y="264.0" width="3.2" height="3.2" fill="none" stroke="#7a4a10" stroke-width="0.7"/>
<line x1="249.10000000000002" y1="263.0" x2="249.10000000000002" y2="265.5" stroke="#5a1a2a" stroke-width="0.8" />
<line x1="247.8" y1="263.0" x2="250.40000000000003" y2="263.0" stroke="#5a1a2a" stroke-width="0.8" />
<ellipse cx="249.10000000000002" cy="266.2" rx="2.6" ry="1.5" fill="#3a1010"/>
<path d="M249.10000000000002 257.89000000000004 L251.00000000000003 261.31 L247.20000000000002 261.31 Z" fill="white" stroke="#222" stroke-width="0.7" stroke-linejoin="miter"/>
<line x1="40.0" y1="189.6" x2="49.2" y2="189.6" stroke="#6e6e6e" stroke-width="0.85" />
<text x="44.6" y="190.5" font-size="6.4" text-anchor="middle" font-weight="normal" fill="#333" >*</text>
<line x1="52.3" y1="186.0" x2="61.2" y2="186.0" stroke="#6e6e6e" stroke-width="0.85" />
<text x="56.75" y="186.9" font-size="6.4" text-anchor="middle" font-weight="normal" fill="#333" >*</text>
<line x1="78.5" y1="190.4" x2="87.7" y2="190.4" stroke="#6e6e6e" stroke-width="0.85" />
<text x="83.1" y="191.3" font-size="6.4" text-anchor="middle" font-weight="normal" fill="#333" >**</text>
<line x1="89.7" y1="186.5" x2="98.5" y2="186.5" stroke="#6e6e6e" stroke-width="0.85" />
<text x="94.1" y="187.4" font-size="6.4" text-anchor="middle" font-weight="normal" fill="#333" >**</text>
<line x1="115.0" y1="187.0" x2="124.2" y2="187.0" stroke="#6e6e6e" stroke-width="0.85" />
<text x="119.6" y="187.9" font-size="6.4" text-anchor="middle" font-weight="normal" fill="#333" >*</text>
<line x1="125.0" y1="185.0" x2="133.5" y2="185.0" stroke="#6e6e6e" stroke-width="0.85" />
<text x="129.25" y="185.9" font-size="6.4" text-anchor="middle" font-weight="normal" fill="#333" >**</text>
<line x1="191.0" y1="190.3" x2="200.0" y2="190.3" stroke="#6e6e6e" stroke-width="0.85" />
<text x="195.5" y="191.20000000000002" font-size="6.4" text-anchor="middle" font-weight="normal" fill="#333" >*</text>
<line x1="202.5" y1="185.4" x2="211.7" y2="185.4" stroke="#6e6e6e" stroke-width="0.85" />
<text x="207.1" y="186.3" font-size="6.4" text-anchor="middle" font-weight="normal" fill="#333" >*</text>
<text x="50.45" y="279.0" font-size="6.5" text-anchor="middle" font-weight="normal" fill="#333" textLength="20.5" lengthAdjust="spacingAndGlyphs" >CD34+</text>
<text x="88.15" y="279.0" font-size="6.5" text-anchor="middle" font-weight="normal" fill="#333" textLength="19.9" lengthAdjust="spacingAndGlyphs" >CD19+</text>
<text x="125.75" y="279.0" font-size="6.5" text-anchor="middle" font-weight="normal" fill="#333" textLength="20.1" lengthAdjust="spacingAndGlyphs" >CD56+</text>
<text x="163.35" y="279.0" font-size="6.5" text-anchor="middle" font-weight="normal" fill="#333" textLength="41.3" lengthAdjust="spacingAndGlyphs" >CD13+CD33+</text>
<text x="200.85" y="279.0" font-size="6.5" text-anchor="middle" font-weight="normal" fill="#333" textLength="12.7" lengthAdjust="spacingAndGlyphs" >CLP</text>
<text x="238.65" y="279.0" font-size="6.5" text-anchor="middle" font-weight="normal" fill="#333" textLength="12.7" lengthAdjust="spacingAndGlyphs" >ProB</text>
<circle cx="98.1" cy="288.3" r="1.45" fill="none" stroke="#333" stroke-width="0.65"/>
<text x="102.0" y="290.9" font-size="6.9" text-anchor="start" font-weight="normal" fill="#333" textLength="11.0" lengthAdjust="spacingAndGlyphs" >STF</text>
<rect x="119.1" y="286.90000000000003" width="2.8" height="2.8" fill="none" stroke="#333" stroke-width="0.65"/>
<text x="124.0" y="290.9" font-size="6.9" text-anchor="start" font-weight="normal" fill="#333" textLength="20.8" lengthAdjust="spacingAndGlyphs" >STF+Q</text>
<path d="M153.3 287.15 L154.8 289.85 L151.8 289.85 Z" fill="none" stroke="#333" stroke-width="0.65" stroke-linejoin="miter"/>
<text x="157.5" y="290.9" font-size="6.9" text-anchor="start" font-weight="normal" fill="#333" textLength="35.5" lengthAdjust="spacingAndGlyphs" >STF+CPI203</text>
<g transform="translate(282.0,205.0)">
<path d="M6.8 11.2 C 3 12.6, 0.3 15, 1.3 17.8 C 2.6 19.6, 8 18.2, 18 16.4" fill="none" stroke="#c8a096" stroke-width="1.1" stroke-linecap="round"/>
<path d="M6.2 11.4 C 7.5 6.8, 12.5 3.2, 19.5 2.8 C 22.5 2.6, 24.5 2.2, 26.2 2.5 C 28.6 3.0, 31.2 4.7, 32.6 6.3 C 32.0 7.4, 30.4 8.3, 28.6 8.7 L 27.8 10.4 C 27.4 11.6, 28.2 12.9, 29.6 14.1 L 26.6 14.3 C 25.5 13.6, 24.6 13.1, 23.4 13.1 C 19 14.3, 14 14.4, 11 14.0 L 9.6 14.7 L 7.4 14.5 C 6.3 13.6, 5.9 12.4, 6.2 11.4 Z" fill="#e6e3e5" stroke="#b3a9aa" stroke-width="0.45"/>
<ellipse cx="25.2" cy="2.6" rx="1.6" ry="1.7" fill="#e8cfd0" stroke="#b09a9a" stroke-width="0.4"/>
<circle cx="29.0" cy="4.8" r="0.55" fill="#6a5a5a"/>
<path d="M32.6 6.3 L33.1 6.6" stroke="#c99" stroke-width="0.5"/>
</g>
<g transform="translate(369.7,205.0)">
<path d="M6.8 11.2 C 3 12.6, 0.3 15, 1.3 17.8 C 2.6 19.6, 8 18.2, 18 16.4" fill="none" stroke="#c8a096" stroke-width="1.1" stroke-linecap="round"/>
<path d="M6.2 11.4 C 7.5 6.8, 12.5 3.2, 19.5 2.8 C 22.5 2.6, 24.5 2.2, 26.2 2.5 C 28.6 3.0, 31.2 4.7, 32.6 6.3 C 32.0 7.4, 30.4 8.3, 28.6 8.7 L 27.8 10.4 C 27.4 11.6, 28.2 12.9, 29.6 14.1 L 26.6 14.3 C 25.5 13.6, 24.6 13.1, 23.4 13.1 C 19 14.3, 14 14.4, 11 14.0 L 9.6 14.7 L 7.4 14.5 C 6.3 13.6, 5.9 12.4, 6.2 11.4 Z" fill="#e6e3e5" stroke="#b3a9aa" stroke-width="0.45"/>
<ellipse cx="25.2" cy="2.6" rx="1.6" ry="1.7" fill="#e8cfd0" stroke="#b09a9a" stroke-width="0.4"/>
<circle cx="29.0" cy="4.8" r="0.55" fill="#6a5a5a"/>
<path d="M32.6 6.3 L33.1 6.6" stroke="#c99" stroke-width="0.5"/>
</g>
<line x1="318.0" y1="214.2" x2="361.2" y2="214.2" stroke="#3a3a3a" stroke-width="1.3" />
<path d="M365.4 214.2 L360.4 212.0 L360.4 216.39999999999998 Z" fill="#222"/>
<line x1="403.4" y1="214.2" x2="438.8" y2="214.2" stroke="#3a3a3a" stroke-width="1.3" />
<path d="M443.0 214.2 L438.0 212.0 L438.0 216.39999999999998 Z" fill="#222"/>
<text x="342.0" y="201.0" font-size="6.2" text-anchor="middle" font-weight="normal" fill="#333" textLength="9.7" lengthAdjust="spacingAndGlyphs" >BM</text>
<text x="342.3" y="208.0" font-size="6.2" text-anchor="middle" font-weight="normal" fill="#333" textLength="39.2" lengthAdjust="spacingAndGlyphs" >Transplantation</text>
<text x="299.0" y="235.5" font-size="6.2" text-anchor="middle" font-weight="normal" fill="#333" textLength="19.6" lengthAdjust="spacingAndGlyphs" >Primary</text>
<text x="299.0" y="242.5" font-size="6.2" text-anchor="middle" font-weight="normal" fill="#333" textLength="22.0" lengthAdjust="spacingAndGlyphs" >recipient</text>
<text x="386.5" y="235.5" font-size="6.2" text-anchor="middle" font-weight="normal" fill="#333" textLength="29.0" lengthAdjust="spacingAndGlyphs" >Secondary</text>
<text x="386.5" y="242.5" font-size="6.2" text-anchor="middle" font-weight="normal" fill="#333" textLength="23.0" lengthAdjust="spacingAndGlyphs" >recipient</text>
<rect x="448.7" y="197.4" width="59.8" height="34.9" rx="4" ry="4" fill="#dfe9f6" stroke="#90a4c6" stroke-width="0.8"/>
<text x="478.5" y="209.5" font-size="6.6" text-anchor="middle" font-weight="normal" fill="#333" textLength="26.1" lengthAdjust="spacingAndGlyphs" >Week 20:</text>
<text x="478.5" y="217.0" font-size="6.6" text-anchor="middle" font-weight="normal" fill="#333" textLength="17.0" lengthAdjust="spacingAndGlyphs" >End of</text>
<text x="478.5" y="224.6" font-size="6.6" text-anchor="middle" font-weight="normal" fill="#333" textLength="29.2" lengthAdjust="spacingAndGlyphs" >experiment</text>
<text x="209.05" y="313.2" font-size="8.3" text-anchor="middle" font-weight="normal" fill="#222" textLength="88.5" lengthAdjust="spacingAndGlyphs" >Human Chimerism in BM</text>
<line x1="166.45" y1="318.6" x2="166.45" y2="442.0" stroke="#333" stroke-width="1.2" />
<line x1="163.6" y1="442.0" x2="251.0" y2="442.0" stroke="#4e4e4e" stroke-width="1.9" />
<line x1="163.8" y1="321.0" x2="166.0" y2="321.0" stroke="#2a2a2a" stroke-width="0.9" />
<text x="159.7" y="323.2" font-size="6.3" text-anchor="end" font-weight="normal" fill="#444" textLength="7.7" lengthAdjust="spacingAndGlyphs" >0.4</text>
<line x1="163.8" y1="351.25" x2="166.0" y2="351.25" stroke="#2a2a2a" stroke-width="0.9" />
<text x="159.7" y="353.45" font-size="6.3" text-anchor="end" font-weight="normal" fill="#444" textLength="7.7" lengthAdjust="spacingAndGlyphs" >0.3</text>
<line x1="163.8" y1="381.5" x2="166.0" y2="381.5" stroke="#2a2a2a" stroke-width="0.9" />
<text x="159.7" y="383.7" font-size="6.3" text-anchor="end" font-weight="normal" fill="#444" textLength="7.7" lengthAdjust="spacingAndGlyphs" >0.2</text>
<line x1="163.8" y1="411.75" x2="166.0" y2="411.75" stroke="#2a2a2a" stroke-width="0.9" />
<text x="159.7" y="413.95" font-size="6.3" text-anchor="end" font-weight="normal" fill="#444" textLength="7.7" lengthAdjust="spacingAndGlyphs" >0.1</text>
<line x1="163.8" y1="442.0" x2="166.0" y2="442.0" stroke="#2a2a2a" stroke-width="0.9" />
<text x="159.7" y="444.2" font-size="6.3" text-anchor="end" font-weight="normal" fill="#444" textLength="7.7" lengthAdjust="spacingAndGlyphs" >0.0</text>
<text transform="translate(147.4,378.7) rotate(-90)" font-size="6.6" font-weight="normal" text-anchor="middle" fill="#222" textLength="97.8" lengthAdjust="spacingAndGlyphs">Freq of huCD45+ within live cells (%)</text>
<line x1="183.3" y1="442.0" x2="183.3" y2="444.4" stroke="#2a2a2a" stroke-width="0.8" />
<line x1="208.5" y1="442.0" x2="208.5" y2="444.4" stroke="#2a2a2a" stroke-width="0.8" />
<line x1="233.7" y1="442.0" x2="233.7" y2="444.4" stroke="#2a2a2a" stroke-width="0.8" />
<text transform="translate(186.10000000000002,450.6) rotate(-45)" font-size="6.35" text-anchor="end" fill="#333">STF</text>
<text transform="translate(211.3,450.6) rotate(-45)" font-size="6.35" text-anchor="end" fill="#333">STF+Q</text>
<text transform="translate(236.5,450.6) rotate(-45)" font-size="6.35" text-anchor="end" fill="#333">STF+CPI203</text>
<circle cx="183.1" cy="351.4" r="2.0" fill="none" stroke="#4caf50" stroke-width="0.8"/>
<circle cx="183.1" cy="379.3" r="2.0" fill="none" stroke="#4caf50" stroke-width="0.8"/>
<circle cx="183.1" cy="390.7" r="2.0" fill="none" stroke="#4caf50" stroke-width="0.8"/>
<circle cx="183.1" cy="397.0" r="2.0" fill="none" stroke="#4caf50" stroke-width="0.8"/>
<circle cx="183.1" cy="417.8" r="2.0" fill="none" stroke="#4caf50" stroke-width="0.8"/>
<line x1="183.1" y1="376.2" x2="183.1" y2="398.0" stroke="#3b6b3e" stroke-width="0.9" />
<line x1="179.3" y1="376.2" x2="187.0" y2="376.2" stroke="#3b6b3e" stroke-width="0.9" />
<line x1="179.3" y1="398.0" x2="187.0" y2="398.0" stroke="#3b6b3e" stroke-width="0.9" />
<line x1="175.3" y1="387.0" x2="191.3" y2="387.0" stroke="#3b6b3e" stroke-width="1.0" />
<rect x="200.6" y="391.90000000000003" width="3.8" height="3.8" fill="none" stroke="#f5a033" stroke-width="0.8"/>
<rect x="213.1" y="388.6" width="3.8" height="3.8" fill="none" stroke="#f5a033" stroke-width="0.8"/>
<rect x="200.6" y="413.1" width="3.8" height="3.8" fill="none" stroke="#f5a033" stroke-width="0.8"/>
<rect x="200.6" y="418.6" width="3.8" height="3.8" fill="none" stroke="#f5a033" stroke-width="0.8"/>
<rect x="213.1" y="416.1" width="3.8" height="3.8" fill="none" stroke="#f5a033" stroke-width="0.8"/>
<line x1="208.6" y1="401.2" x2="208.6" y2="413.8" stroke="#333" stroke-width="0.9" />
<line x1="204.3" y1="401.2" x2="213.0" y2="401.2" stroke="#333" stroke-width="0.9" />
<line x1="204.3" y1="413.8" x2="213.0" y2="413.8" stroke="#333" stroke-width="0.9" />
<line x1="200.2" y1="407.3" x2="217.0" y2="407.3" stroke="#333" stroke-width="1.0" />
<path d="M234.0 328.565 L236.15 332.435 L231.85 332.435 Z" fill="none" stroke="#c2185b" stroke-width="0.85" stroke-linejoin="miter"/>
<path d="M234.0 352.665 L236.15 356.535 L231.85 356.535 Z" fill="none" stroke="#c2185b" stroke-width="0.85" stroke-linejoin="miter"/>
<path d="M227.8 380.365 L229.95000000000002 384.235 L225.65 384.235 Z" fill="none" stroke="#c2185b" stroke-width="0.85" stroke-linejoin="miter"/>
<path d="M240.5 376.865 L242.65 380.735 L238.35 380.735 Z" fill="none" stroke="#c2185b" stroke-width="0.85" stroke-linejoin="miter"/>
<path d="M234.0 357.88 L235.8 361.12 L232.2 361.12 Z" fill="#c2185b" stroke="#c2185b" stroke-width="0.6" stroke-linejoin="miter"/>
<line x1="233.8" y1="351.7" x2="233.8" y2="370.0" stroke="#7a2140" stroke-width="0.9" />
<line x1="229.6" y1="351.7" x2="238.0" y2="351.7" stroke="#7a2140" stroke-width="0.9" />
<line x1="229.6" y1="370.0" x2="238.0" y2="370.0" stroke="#7a2140" stroke-width="0.9" />
<line x1="225.7" y1="361.0" x2="242.0" y2="361.0" stroke="#7a2140" stroke-width="1.0" />
<text x="347.3" y="313.5" font-size="8.3" text-anchor="middle" font-weight="normal" fill="#222" textLength="64.6" lengthAdjust="spacingAndGlyphs" >% of GFP+ in BM</text>
<line x1="303.7" y1="318.8" x2="303.7" y2="442.0" stroke="#333" stroke-width="1.2" />
<line x1="302.5" y1="442.0" x2="390.7" y2="442.0" stroke="#4e4e4e" stroke-width="1.9" />
<line x1="301.3" y1="322.0" x2="303.5" y2="322.0" stroke="#2a2a2a" stroke-width="0.9" />
<text x="297.9" y="324.2" font-size="6.2" text-anchor="end" font-weight="normal" fill="#444" >15</text>
<line x1="301.3" y1="362.0" x2="303.5" y2="362.0" stroke="#2a2a2a" stroke-width="0.9" />
<text x="297.9" y="364.2" font-size="6.2" text-anchor="end" font-weight="normal" fill="#444" >10</text>
<line x1="301.3" y1="402.0" x2="303.5" y2="402.0" stroke="#2a2a2a" stroke-width="0.9" />
<text x="297.9" y="404.2" font-size="6.2" text-anchor="end" font-weight="normal" fill="#444" >5</text>
<line x1="301.3" y1="442.0" x2="303.5" y2="442.0" stroke="#2a2a2a" stroke-width="0.9" />
<text x="297.9" y="444.2" font-size="6.2" text-anchor="end" font-weight="normal" fill="#444" >0</text>
<text transform="translate(284.0,381.2) rotate(-90)" font-size="6.7" font-weight="normal" text-anchor="middle" fill="#222" textLength="90.4" lengthAdjust="spacingAndGlyphs">Freq of GFP + within huCD45+ (%)</text>
<line x1="320.4" y1="442.0" x2="320.4" y2="444.4" stroke="#2a2a2a" stroke-width="0.8" />
<line x1="346.7" y1="442.0" x2="346.7" y2="444.4" stroke="#2a2a2a" stroke-width="0.8" />
<line x1="372.7" y1="442.0" x2="372.7" y2="444.4" stroke="#2a2a2a" stroke-width="0.8" />
<text transform="translate(323.2,450.6) rotate(-45)" font-size="6.35" text-anchor="end" fill="#333">STF</text>
<text transform="translate(349.5,450.6) rotate(-45)" font-size="6.35" text-anchor="end" fill="#333">STF+Q</text>
<text transform="translate(375.5,450.6) rotate(-45)" font-size="6.35" text-anchor="end" fill="#333">STF+CPI203</text>
<circle cx="314.3" cy="437.5" r="2.0" fill="none" stroke="#4caf50" stroke-width="0.8"/>
<circle cx="314.3" cy="440.5" r="2.0" fill="none" stroke="#4caf50" stroke-width="0.8"/>
<circle cx="319.0" cy="440.0" r="2.0" fill="none" stroke="#4caf50" stroke-width="0.8"/>
<circle cx="323.5" cy="440.0" r="2.0" fill="none" stroke="#4caf50" stroke-width="0.8"/>
<circle cx="327.8" cy="439.5" r="2.0" fill="none" stroke="#4caf50" stroke-width="0.8"/>
<circle cx="320.0" cy="438.0" r="2.0" fill="none" stroke="#4caf50" stroke-width="0.8"/>
<line x1="313.0" y1="439.5" x2="327.7" y2="439.5" stroke="#3b6b3e" stroke-width="1.0" />
<rect x="344.9" y="351.4" width="4.0" height="4.0" fill="none" stroke="#f5a033" stroke-width="0.8"/>
<rect x="338.7" y="428.8" width="4.0" height="4.0" fill="none" stroke="#f5a033" stroke-width="0.8"/>
<rect x="351.3" y="428.8" width="4.0" height="4.0" fill="none" stroke="#f5a033" stroke-width="0.8"/>
<rect x="344.4" y="410.5" width="4.0" height="4.0" fill="none" stroke="#f5a033" stroke-width="0.8"/>
<rect x="344.4" y="414.0" width="4.0" height="4.0" fill="none" stroke="#f5a033" stroke-width="0.8"/>
<rect x="344.4" y="417.0" width="4.0" height="4.0" fill="none" stroke="#f5a033" stroke-width="0.8"/>
<line x1="346.7" y1="394.6" x2="346.7" y2="422.8" stroke="#6a5a4a" stroke-width="0.9" />
<line x1="342.7" y1="394.6" x2="351.0" y2="394.6" stroke="#444" stroke-width="0.9" />
<line x1="342.5" y1="422.8" x2="351.0" y2="422.8" stroke="#444" stroke-width="0.9" />
<line x1="338.4" y1="409.0" x2="355.7" y2="409.0" stroke="#444" stroke-width="1.0" />
<path d="M372.7 424.82 L374.9 428.78000000000003 L370.5 428.78000000000003 Z" fill="none" stroke="#d23050" stroke-width="0.85" stroke-linejoin="miter"/>
<path d="M366.4 433.62 L368.59999999999997 437.58000000000004 L364.2 437.58000000000004 Z" fill="none" stroke="#d23050" stroke-width="0.85" stroke-linejoin="miter"/>
<path d="M366.4 438.91999999999996 L368.59999999999997 442.88 L364.2 442.88 Z" fill="none" stroke="#d23050" stroke-width="0.85" stroke-linejoin="miter"/>
<path d="M379.2 437.62 L381.4 441.58000000000004 L377.0 441.58000000000004 Z" fill="none" stroke="#d23050" stroke-width="0.85" stroke-linejoin="miter"/>
<path d="M372.7 434.28 L374.5 437.52 L370.9 437.52 Z" fill="#7a2140" stroke="#7a2140" stroke-width="0.6" stroke-linejoin="miter"/>
<line x1="373.0" y1="433.4" x2="373.0" y2="442.0" stroke="#7a2140" stroke-width="0.9" />
<line x1="369.3" y1="433.4" x2="376.7" y2="433.4" stroke="#7a2140" stroke-width="0.9" />
<line x1="367.4" y1="435.9" x2="381.6" y2="435.9" stroke="#666" stroke-width="1.0" />
<line x1="325.0" y1="339.5" x2="345.5" y2="339.5" stroke="#7a7a7a" stroke-width="1.2" />
<text x="335.25" y="340.0" font-size="5.6" text-anchor="middle" font-weight="normal" fill="#333" >**</text>
<line x1="349.2" y1="339.5" x2="370.5" y2="339.5" stroke="#7a7a7a" stroke-width="1.2" />
<text x="359.85" y="340.0" font-size="5.6" text-anchor="middle" font-weight="normal" fill="#333" >*</text>
<rect x="0.5" y="0.5" width="519" height="484" fill="none" stroke="#646464" stroke-width="1"/>
</svg></body></html>
